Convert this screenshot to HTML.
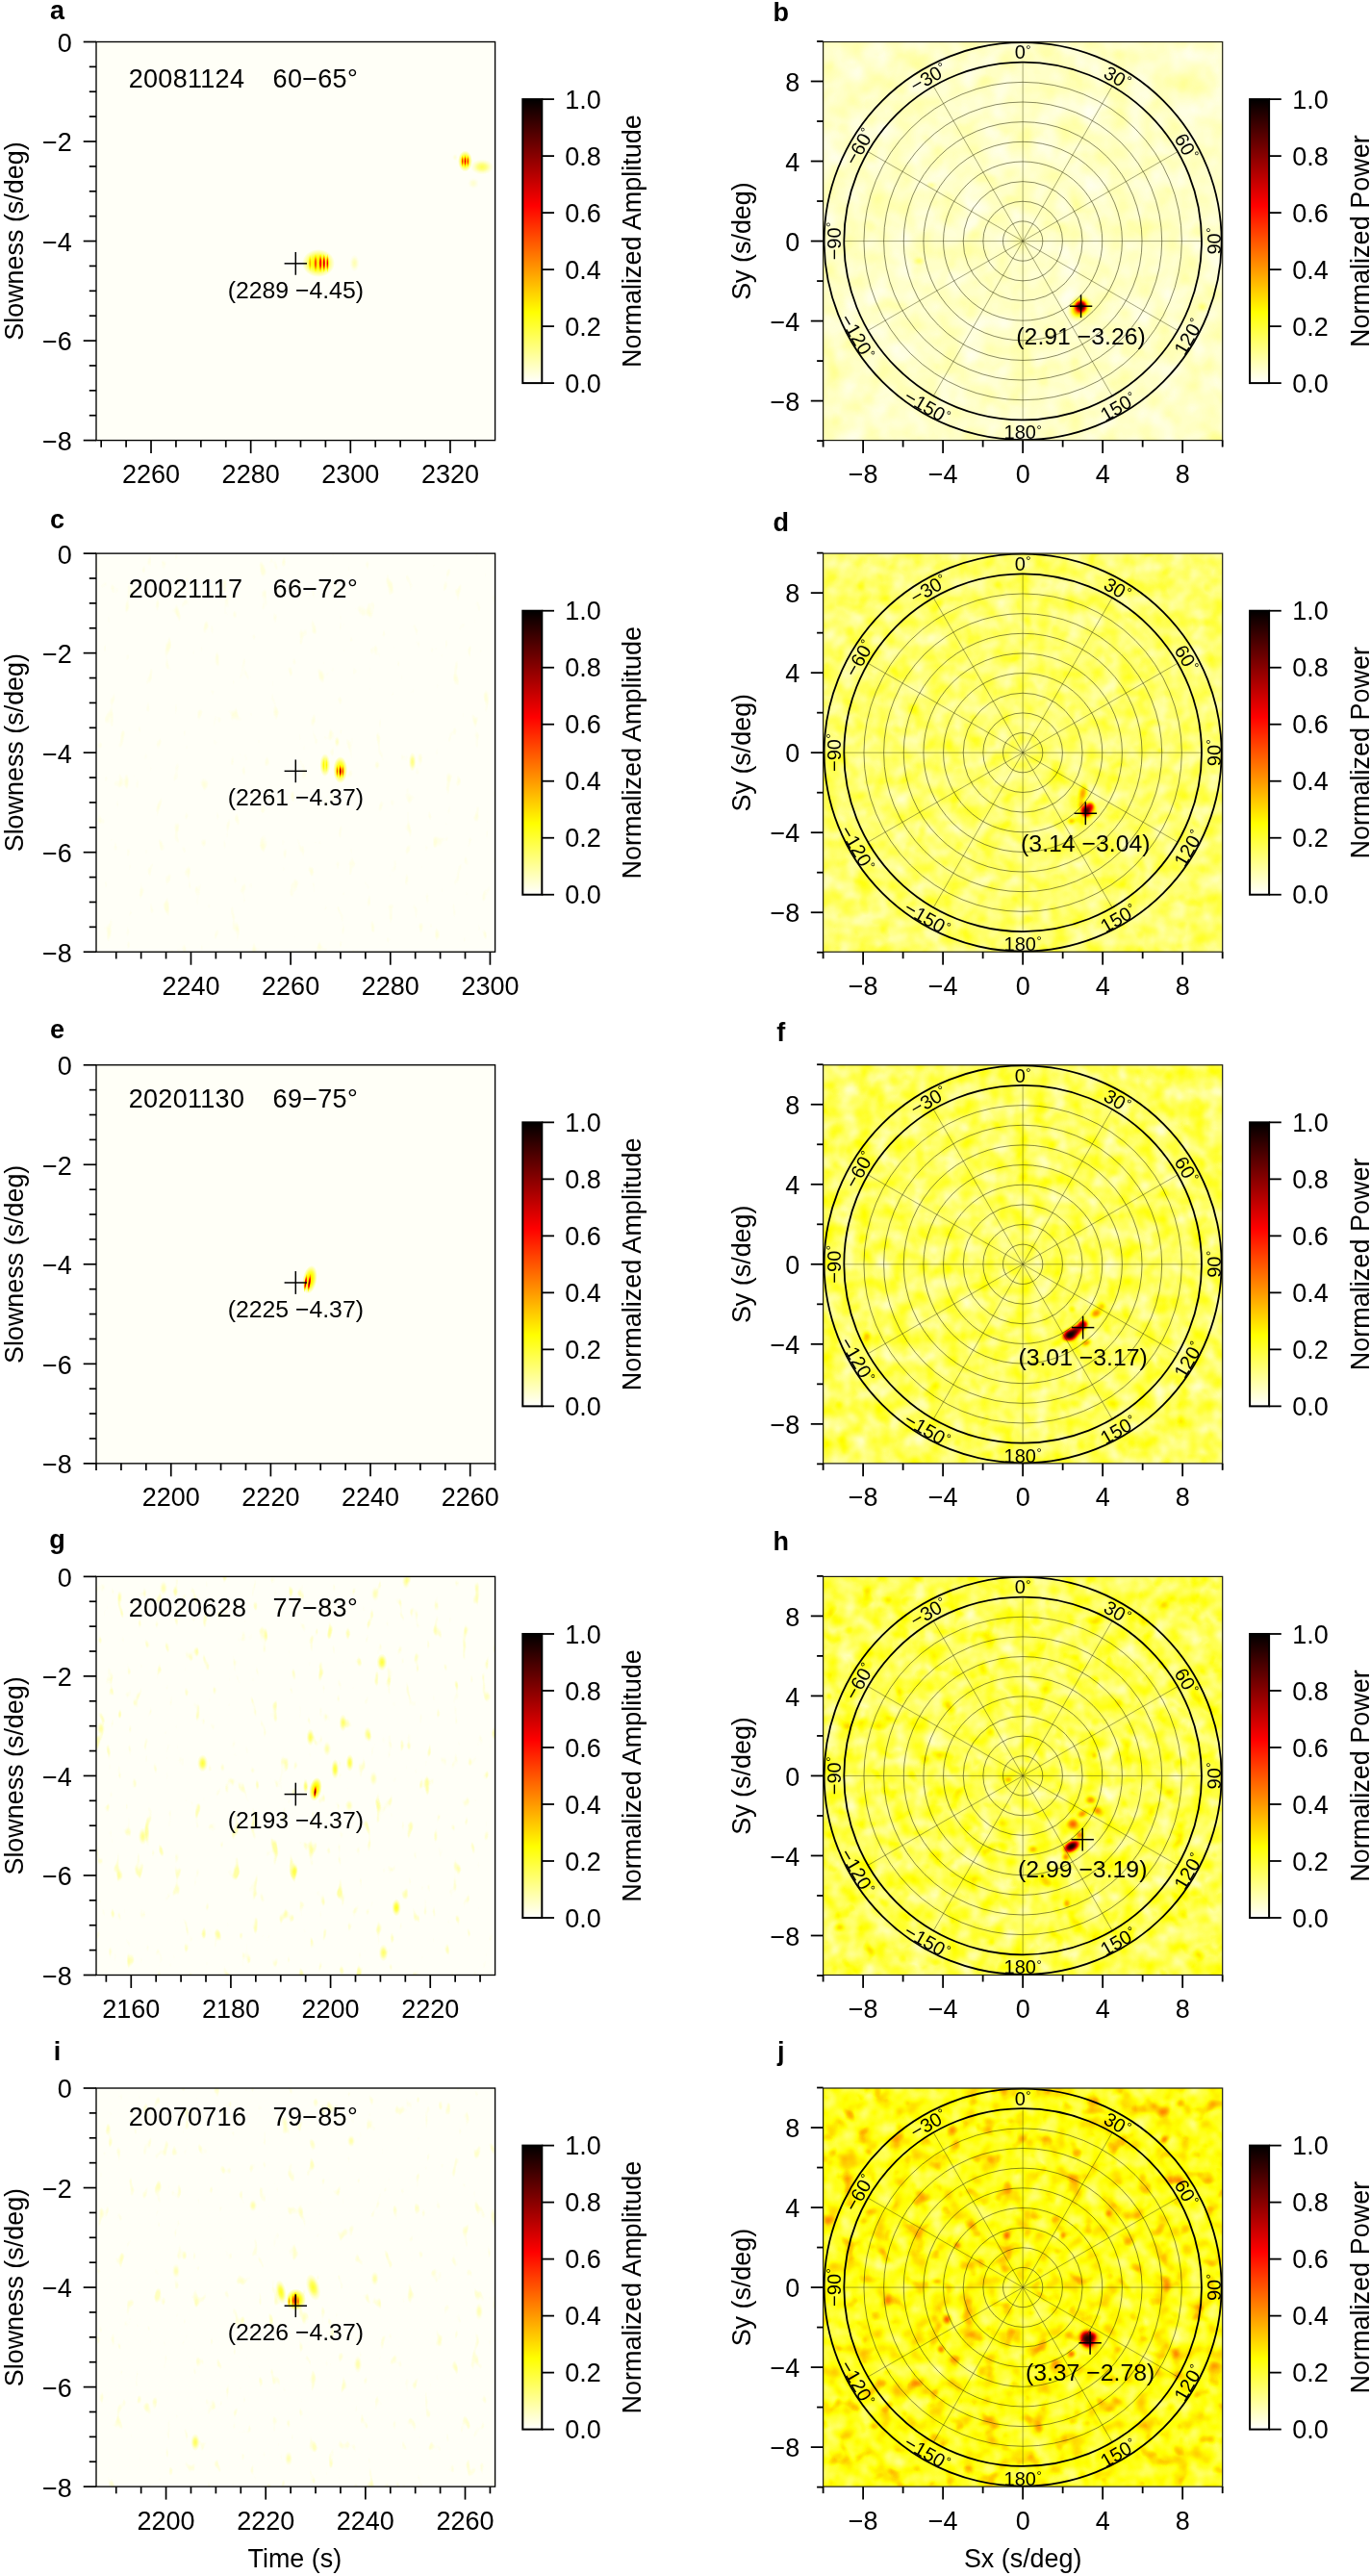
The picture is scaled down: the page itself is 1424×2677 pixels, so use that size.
<!DOCTYPE html>
<html><head><meta charset="utf-8"><title>Figure</title>
<style>
html,body{margin:0;padding:0;background:#fff;}
body{width:1424px;height:2677px;overflow:hidden;font-family:"Liberation Sans", sans-serif;}
svg{display:block;will-change:transform;}
svg text{font-family:"Liberation Sans", sans-serif;fill:#000;}
</style></head><body>
<svg width="1424" height="2677" viewBox="0 0 1424 2677">
<defs>
<linearGradient id="cbg" x1="0" y1="1" x2="0" y2="0">
<stop offset="0" stop-color="#ffffff"/>
<stop offset="0.25" stop-color="#ffff00"/>
<stop offset="0.625" stop-color="#ff0000"/>
<stop offset="1" stop-color="#000000"/>
</linearGradient>
<radialGradient id="bc"><stop offset="0" stop-color="#fff" stop-opacity="1"/><stop offset="0.3" stop-color="#fff" stop-opacity="0.95"/><stop offset="0.55" stop-color="#fff" stop-opacity="0.68"/><stop offset="0.78" stop-color="#fff" stop-opacity="0.3"/><stop offset="1" stop-color="#fff" stop-opacity="0"/></radialGradient>
<radialGradient id="bl"><stop offset="0" stop-color="#fff" stop-opacity="1"/><stop offset="0.35" stop-color="#fff" stop-opacity="0.75"/><stop offset="0.7" stop-color="#fff" stop-opacity="0.25"/><stop offset="1" stop-color="#fff" stop-opacity="0"/></radialGradient>
<filter id="fl0" filterUnits="userSpaceOnUse" x="100.0" y="43.5" width="414.6" height="414.1" color-interpolation-filters="sRGB"><feComponentTransfer>
<feFuncR type="table" tableValues="1 1 1 1 1 1 0.667 0.333 0"/>
<feFuncG type="table" tableValues="1 1 1 0.667 0.333 0 0 0 0"/>
<feFuncB type="table" tableValues="1 0.5 0 0 0 0 0 0 0"/>
<feFuncA type="linear" slope="0" intercept="1"/>
</feComponentTransfer></filter><clipPath id="cl0"><rect x="100.0" y="43.5" width="414.6" height="414.1"/></clipPath><filter id="fl1" filterUnits="userSpaceOnUse" x="100.0" y="575.13" width="414.6" height="414.1" color-interpolation-filters="sRGB"><feTurbulence type="fractalNoise" baseFrequency="0.10 0.045" numOctaves="2" seed="12" result="n"/><feColorMatrix in="n" type="matrix" values="1 0 0 0 0  1 0 0 0 0  1 0 0 0 0  0 0 0 0 1" result="g"/><feComponentTransfer in="g" result="s"><feFuncR type="table" tableValues="0.000 0.000 0.000 0.000 0.000 0.000 0.000 0.000 0.000 0.000 0.000 0.000 0.000 0.000 0.004 0.012 0.021 0.030 0.030 0.030 0.030"/><feFuncG type="table" tableValues="0.000 0.000 0.000 0.000 0.000 0.000 0.000 0.000 0.000 0.000 0.000 0.000 0.000 0.000 0.004 0.012 0.021 0.030 0.030 0.030 0.030"/><feFuncB type="table" tableValues="0.000 0.000 0.000 0.000 0.000 0.000 0.000 0.000 0.000 0.000 0.000 0.000 0.000 0.000 0.004 0.012 0.021 0.030 0.030 0.030 0.030"/></feComponentTransfer><feBlend in="SourceGraphic" in2="s" mode="screen"/><feComponentTransfer>
<feFuncR type="table" tableValues="1 1 1 1 1 1 0.667 0.333 0"/>
<feFuncG type="table" tableValues="1 1 1 0.667 0.333 0 0 0 0"/>
<feFuncB type="table" tableValues="1 0.5 0 0 0 0 0 0 0"/>
<feFuncA type="linear" slope="0" intercept="1"/>
</feComponentTransfer></filter><clipPath id="cl1"><rect x="100.0" y="575.13" width="414.6" height="414.1"/></clipPath><filter id="fl2" filterUnits="userSpaceOnUse" x="100.0" y="1106.76" width="414.6" height="414.1" color-interpolation-filters="sRGB"><feComponentTransfer>
<feFuncR type="table" tableValues="1 1 1 1 1 1 0.667 0.333 0"/>
<feFuncG type="table" tableValues="1 1 1 0.667 0.333 0 0 0 0"/>
<feFuncB type="table" tableValues="1 0.5 0 0 0 0 0 0 0"/>
<feFuncA type="linear" slope="0" intercept="1"/>
</feComponentTransfer></filter><clipPath id="cl2"><rect x="100.0" y="1106.76" width="414.6" height="414.1"/></clipPath><filter id="fl3" filterUnits="userSpaceOnUse" x="100.0" y="1638.3899999999999" width="414.6" height="414.1" color-interpolation-filters="sRGB"><feTurbulence type="fractalNoise" baseFrequency="0.10 0.045" numOctaves="2" seed="22" result="n"/><feColorMatrix in="n" type="matrix" values="1 0 0 0 0  1 0 0 0 0  1 0 0 0 0  0 0 0 0 1" result="g"/><feComponentTransfer in="g" result="s"><feFuncR type="table" tableValues="0.000 0.000 0.000 0.000 0.000 0.000 0.000 0.000 0.000 0.000 0.000 0.000 0.000 0.000 0.010 0.035 0.060 0.085 0.085 0.085 0.085"/><feFuncG type="table" tableValues="0.000 0.000 0.000 0.000 0.000 0.000 0.000 0.000 0.000 0.000 0.000 0.000 0.000 0.000 0.010 0.035 0.060 0.085 0.085 0.085 0.085"/><feFuncB type="table" tableValues="0.000 0.000 0.000 0.000 0.000 0.000 0.000 0.000 0.000 0.000 0.000 0.000 0.000 0.000 0.010 0.035 0.060 0.085 0.085 0.085 0.085"/></feComponentTransfer><feBlend in="SourceGraphic" in2="s" mode="screen"/><feComponentTransfer>
<feFuncR type="table" tableValues="1 1 1 1 1 1 0.667 0.333 0"/>
<feFuncG type="table" tableValues="1 1 1 0.667 0.333 0 0 0 0"/>
<feFuncB type="table" tableValues="1 0.5 0 0 0 0 0 0 0"/>
<feFuncA type="linear" slope="0" intercept="1"/>
</feComponentTransfer></filter><clipPath id="cl3"><rect x="100.0" y="1638.3899999999999" width="414.6" height="414.1"/></clipPath><filter id="fl4" filterUnits="userSpaceOnUse" x="100.0" y="2170.02" width="414.6" height="414.1" color-interpolation-filters="sRGB"><feTurbulence type="fractalNoise" baseFrequency="0.10 0.045" numOctaves="2" seed="27" result="n"/><feColorMatrix in="n" type="matrix" values="1 0 0 0 0  1 0 0 0 0  1 0 0 0 0  0 0 0 0 1" result="g"/><feComponentTransfer in="g" result="s"><feFuncR type="table" tableValues="0.000 0.000 0.000 0.000 0.000 0.000 0.000 0.000 0.000 0.000 0.000 0.000 0.000 0.000 0.006 0.023 0.039 0.055 0.055 0.055 0.055"/><feFuncG type="table" tableValues="0.000 0.000 0.000 0.000 0.000 0.000 0.000 0.000 0.000 0.000 0.000 0.000 0.000 0.000 0.006 0.023 0.039 0.055 0.055 0.055 0.055"/><feFuncB type="table" tableValues="0.000 0.000 0.000 0.000 0.000 0.000 0.000 0.000 0.000 0.000 0.000 0.000 0.000 0.000 0.006 0.023 0.039 0.055 0.055 0.055 0.055"/></feComponentTransfer><feBlend in="SourceGraphic" in2="s" mode="screen"/><feComponentTransfer>
<feFuncR type="table" tableValues="1 1 1 1 1 1 0.667 0.333 0"/>
<feFuncG type="table" tableValues="1 1 1 0.667 0.333 0 0 0 0"/>
<feFuncB type="table" tableValues="1 0.5 0 0 0 0 0 0 0"/>
<feFuncA type="linear" slope="0" intercept="1"/>
</feComponentTransfer></filter><clipPath id="cl4"><rect x="100.0" y="2170.02" width="414.6" height="414.1"/></clipPath><filter id="fr0" filterUnits="userSpaceOnUse" x="855.6" y="43.5" width="415.1" height="414.1" color-interpolation-filters="sRGB">
<feTurbulence type="fractalNoise" baseFrequency="0.04" numOctaves="2" seed="3" result="n"/>
<feColorMatrix in="n" type="matrix" values="0.1 0 0 0 0.005  0.1 0 0 0 0.005  0.1 0 0 0 0.005  0 0 0 0 1" result="g"/>
<feColorMatrix in="n" type="matrix" values="0 1 0 0 0  0 1 0 0 0  0 1 0 0 0  0 0 0 0 1" result="s0"/>
<feComponentTransfer in="s0" result="s1"><feFuncR type="table" tableValues="0.000 0.000 0.000 0.000 0.000 0.000 0.000 0.250 0.500 0.750 1.000"/><feFuncG type="table" tableValues="0.000 0.000 0.000 0.000 0.000 0.000 0.000 0.250 0.500 0.750 1.000"/><feFuncB type="table" tableValues="0.000 0.000 0.000 0.000 0.000 0.000 0.000 0.250 0.500 0.750 1.000"/></feComponentTransfer>
<feComposite in="g" in2="s1" operator="arithmetic" k1="0" k2="1" k3="0.04" k4="0" result="gs"/>
<feGaussianBlur in="SourceGraphic" stdDeviation="1.1" result="sb"/>
<feBlend in="sb" in2="gs" mode="screen"/>
<feComponentTransfer>
<feFuncR type="table" tableValues="1 1 1 1 1 1 0.667 0.333 0"/>
<feFuncG type="table" tableValues="1 1 1 0.667 0.333 0 0 0 0"/>
<feFuncB type="table" tableValues="1 0.5 0 0 0 0 0 0 0"/>
<feFuncA type="linear" slope="0" intercept="1"/>
</feComponentTransfer></filter><clipPath id="cr0"><rect x="855.6" y="43.5" width="415.1" height="414.1"/></clipPath><filter id="fr1" filterUnits="userSpaceOnUse" x="855.6" y="575.13" width="415.1" height="414.1" color-interpolation-filters="sRGB">
<feTurbulence type="fractalNoise" baseFrequency="0.055" numOctaves="2" seed="11" result="n"/>
<feColorMatrix in="n" type="matrix" values="0.2 0 0 0 0.040  0.2 0 0 0 0.040  0.2 0 0 0 0.040  0 0 0 0 1" result="g"/>
<feColorMatrix in="n" type="matrix" values="0 1 0 0 0  0 1 0 0 0  0 1 0 0 0  0 0 0 0 1" result="s0"/>
<feComponentTransfer in="s0" result="s1"><feFuncR type="table" tableValues="0.000 0.000 0.000 0.000 0.000 0.000 0.000 0.250 0.500 0.750 1.000"/><feFuncG type="table" tableValues="0.000 0.000 0.000 0.000 0.000 0.000 0.000 0.250 0.500 0.750 1.000"/><feFuncB type="table" tableValues="0.000 0.000 0.000 0.000 0.000 0.000 0.000 0.250 0.500 0.750 1.000"/></feComponentTransfer>
<feComposite in="g" in2="s1" operator="arithmetic" k1="0" k2="1" k3="0.08" k4="0" result="gs"/>
<feGaussianBlur in="SourceGraphic" stdDeviation="1.1" result="sb"/>
<feBlend in="sb" in2="gs" mode="screen"/>
<feComponentTransfer>
<feFuncR type="table" tableValues="1 1 1 1 1 1 0.667 0.333 0"/>
<feFuncG type="table" tableValues="1 1 1 0.667 0.333 0 0 0 0"/>
<feFuncB type="table" tableValues="1 0.5 0 0 0 0 0 0 0"/>
<feFuncA type="linear" slope="0" intercept="1"/>
</feComponentTransfer></filter><clipPath id="cr1"><rect x="855.6" y="575.13" width="415.1" height="414.1"/></clipPath><filter id="fr2" filterUnits="userSpaceOnUse" x="855.6" y="1106.76" width="415.1" height="414.1" color-interpolation-filters="sRGB">
<feTurbulence type="fractalNoise" baseFrequency="0.055" numOctaves="2" seed="23" result="n"/>
<feColorMatrix in="n" type="matrix" values="0.25 0 0 0 0.030  0.25 0 0 0 0.030  0.25 0 0 0 0.030  0 0 0 0 1" result="g"/>
<feColorMatrix in="n" type="matrix" values="0 1 0 0 0  0 1 0 0 0  0 1 0 0 0  0 0 0 0 1" result="s0"/>
<feComponentTransfer in="s0" result="s1"><feFuncR type="table" tableValues="0.000 0.000 0.000 0.000 0.000 0.000 0.000 0.250 0.500 0.750 1.000"/><feFuncG type="table" tableValues="0.000 0.000 0.000 0.000 0.000 0.000 0.000 0.250 0.500 0.750 1.000"/><feFuncB type="table" tableValues="0.000 0.000 0.000 0.000 0.000 0.000 0.000 0.250 0.500 0.750 1.000"/></feComponentTransfer>
<feComposite in="g" in2="s1" operator="arithmetic" k1="0" k2="1" k3="0.08" k4="0" result="gs"/>
<feGaussianBlur in="SourceGraphic" stdDeviation="1.1" result="sb"/>
<feBlend in="sb" in2="gs" mode="screen"/>
<feComponentTransfer>
<feFuncR type="table" tableValues="1 1 1 1 1 1 0.667 0.333 0"/>
<feFuncG type="table" tableValues="1 1 1 0.667 0.333 0 0 0 0"/>
<feFuncB type="table" tableValues="1 0.5 0 0 0 0 0 0 0"/>
<feFuncA type="linear" slope="0" intercept="1"/>
</feComponentTransfer></filter><clipPath id="cr2"><rect x="855.6" y="1106.76" width="415.1" height="414.1"/></clipPath><filter id="fr3" filterUnits="userSpaceOnUse" x="855.6" y="1638.3899999999999" width="415.1" height="414.1" color-interpolation-filters="sRGB">
<feTurbulence type="fractalNoise" baseFrequency="0.055" numOctaves="2" seed="37" result="n"/>
<feColorMatrix in="n" type="matrix" values="0.27 0 0 0 0.030  0.27 0 0 0 0.030  0.27 0 0 0 0.030  0 0 0 0 1" result="g"/>
<feColorMatrix in="n" type="matrix" values="0 1 0 0 0  0 1 0 0 0  0 1 0 0 0  0 0 0 0 1" result="s0"/>
<feComponentTransfer in="s0" result="s1"><feFuncR type="table" tableValues="0.000 0.000 0.000 0.000 0.000 0.000 0.000 0.250 0.500 0.750 1.000"/><feFuncG type="table" tableValues="0.000 0.000 0.000 0.000 0.000 0.000 0.000 0.250 0.500 0.750 1.000"/><feFuncB type="table" tableValues="0.000 0.000 0.000 0.000 0.000 0.000 0.000 0.250 0.500 0.750 1.000"/></feComponentTransfer>
<feComposite in="g" in2="s1" operator="arithmetic" k1="0" k2="1" k3="0.15" k4="0" result="gs"/>
<feGaussianBlur in="SourceGraphic" stdDeviation="1.1" result="sb"/>
<feBlend in="sb" in2="gs" mode="screen"/>
<feComponentTransfer>
<feFuncR type="table" tableValues="1 1 1 1 1 1 0.667 0.333 0"/>
<feFuncG type="table" tableValues="1 1 1 0.667 0.333 0 0 0 0"/>
<feFuncB type="table" tableValues="1 0.5 0 0 0 0 0 0 0"/>
<feFuncA type="linear" slope="0" intercept="1"/>
</feComponentTransfer></filter><clipPath id="cr3"><rect x="855.6" y="1638.3899999999999" width="415.1" height="414.1"/></clipPath><filter id="fr4" filterUnits="userSpaceOnUse" x="855.6" y="2170.02" width="415.1" height="414.1" color-interpolation-filters="sRGB">
<feTurbulence type="fractalNoise" baseFrequency="0.055" numOctaves="2" seed="51" result="n"/>
<feColorMatrix in="n" type="matrix" values="0.3 0 0 0 0.075  0.3 0 0 0 0.075  0.3 0 0 0 0.075  0 0 0 0 1" result="g"/>
<feColorMatrix in="n" type="matrix" values="0 1 0 0 0  0 1 0 0 0  0 1 0 0 0  0 0 0 0 1" result="s0"/>
<feComponentTransfer in="s0" result="s1"><feFuncR type="table" tableValues="0.000 0.000 0.000 0.000 0.000 0.000 0.048 0.286 0.524 0.762 1.000"/><feFuncG type="table" tableValues="0.000 0.000 0.000 0.000 0.000 0.000 0.048 0.286 0.524 0.762 1.000"/><feFuncB type="table" tableValues="0.000 0.000 0.000 0.000 0.000 0.000 0.048 0.286 0.524 0.762 1.000"/></feComponentTransfer>
<feComposite in="g" in2="s1" operator="arithmetic" k1="0" k2="1" k3="0.22" k4="0" result="gs"/>
<feGaussianBlur in="SourceGraphic" stdDeviation="1.1" result="sb"/>
<feBlend in="sb" in2="gs" mode="screen"/>
<feComponentTransfer>
<feFuncR type="table" tableValues="1 1 1 1 1 1 0.667 0.333 0"/>
<feFuncG type="table" tableValues="1 1 1 0.667 0.333 0 0 0 0"/>
<feFuncB type="table" tableValues="1 0.5 0 0 0 0 0 0 0"/>
<feFuncA type="linear" slope="0" intercept="1"/>
</feComponentTransfer></filter><clipPath id="cr4"><rect x="855.6" y="2170.02" width="415.1" height="414.1"/></clipPath></defs>
<rect width="1424" height="2677" fill="#fff"/>
<g clip-path="url(#cl0)"><g filter="url(#fl0)">
<rect x="95.0" y="38.5" width="424.6" height="424.1" fill="#020202"/>
<ellipse cx="331.0" cy="273.5" rx="17.0" ry="14.5" fill="url(#bc)" opacity="0.27"/>
<ellipse cx="322.2" cy="273.5" rx="1.6" ry="9.0" fill="url(#bl)" opacity="0.25"/>
<ellipse cx="328.0" cy="273.5" rx="1.8" ry="10.0" fill="url(#bl)" opacity="0.40"/>
<ellipse cx="333.1" cy="273.5" rx="1.8" ry="10.0" fill="url(#bl)" opacity="0.60"/>
<ellipse cx="336.8" cy="273.5" rx="1.6" ry="10.0" fill="url(#bl)" opacity="0.70"/>
<ellipse cx="340.4" cy="273.5" rx="1.6" ry="10.0" fill="url(#bl)" opacity="0.60"/>
<ellipse cx="368.5" cy="273.5" rx="5.0" ry="9.0" fill="url(#bl)" opacity="0.07"/>
<ellipse cx="483.5" cy="167.5" rx="7.5" ry="11.0" fill="url(#bc)" opacity="0.27"/>
<ellipse cx="480.6" cy="167.5" rx="1.5" ry="6.5" fill="url(#bl)" opacity="0.45"/>
<ellipse cx="483.5" cy="167.5" rx="1.5" ry="6.5" fill="url(#bl)" opacity="0.55"/>
<ellipse cx="486.4" cy="167.5" rx="1.5" ry="6.5" fill="url(#bl)" opacity="0.45"/>
<ellipse cx="501.0" cy="173.5" rx="12.0" ry="8.0" fill="url(#bl)" opacity="0.16"/>
<ellipse cx="492.0" cy="190.5" rx="6.0" ry="6.0" fill="url(#bl)" opacity="0.04"/>
<ellipse cx="473.0" cy="163.5" rx="3.0" ry="4.0" fill="url(#bl)" opacity="0.03"/>
</g></g>
<rect x="100.0" y="43.5" width="414.6" height="414.1" fill="none" stroke="#000" stroke-width="1.35"/>
<line x1="86.70" y1="43.50" x2="100.00" y2="43.50" stroke="#000" stroke-width="1.7" />
<text x="74.80" y="53.90" font-size="27" text-anchor="end" >0</text>
<line x1="92.80" y1="69.38" x2="100.00" y2="69.38" stroke="#000" stroke-width="1.7" />
<line x1="92.80" y1="95.26" x2="100.00" y2="95.26" stroke="#000" stroke-width="1.7" />
<line x1="92.80" y1="121.14" x2="100.00" y2="121.14" stroke="#000" stroke-width="1.7" />
<line x1="86.70" y1="147.03" x2="100.00" y2="147.03" stroke="#000" stroke-width="1.7" />
<text x="74.80" y="157.43" font-size="27" text-anchor="end" >−2</text>
<line x1="92.80" y1="172.91" x2="100.00" y2="172.91" stroke="#000" stroke-width="1.7" />
<line x1="92.80" y1="198.79" x2="100.00" y2="198.79" stroke="#000" stroke-width="1.7" />
<line x1="92.80" y1="224.67" x2="100.00" y2="224.67" stroke="#000" stroke-width="1.7" />
<line x1="86.70" y1="250.55" x2="100.00" y2="250.55" stroke="#000" stroke-width="1.7" />
<text x="74.80" y="260.95" font-size="27" text-anchor="end" >−4</text>
<line x1="92.80" y1="276.43" x2="100.00" y2="276.43" stroke="#000" stroke-width="1.7" />
<line x1="92.80" y1="302.31" x2="100.00" y2="302.31" stroke="#000" stroke-width="1.7" />
<line x1="92.80" y1="328.19" x2="100.00" y2="328.19" stroke="#000" stroke-width="1.7" />
<line x1="86.70" y1="354.08" x2="100.00" y2="354.08" stroke="#000" stroke-width="1.7" />
<text x="74.80" y="364.48" font-size="27" text-anchor="end" >−6</text>
<line x1="92.80" y1="379.96" x2="100.00" y2="379.96" stroke="#000" stroke-width="1.7" />
<line x1="92.80" y1="405.84" x2="100.00" y2="405.84" stroke="#000" stroke-width="1.7" />
<line x1="92.80" y1="431.72" x2="100.00" y2="431.72" stroke="#000" stroke-width="1.7" />
<line x1="86.70" y1="457.60" x2="100.00" y2="457.60" stroke="#000" stroke-width="1.7" />
<text x="74.80" y="468.00" font-size="27" text-anchor="end" >−8</text>
<line x1="105.18" y1="457.60" x2="105.18" y2="464.80" stroke="#000" stroke-width="1.7" />
<line x1="131.09" y1="457.60" x2="131.09" y2="464.80" stroke="#000" stroke-width="1.7" />
<line x1="157.01" y1="457.60" x2="157.01" y2="471.10" stroke="#000" stroke-width="1.7" />
<text x="157.01" y="502.10" font-size="27" text-anchor="middle" >2260</text>
<line x1="182.92" y1="457.60" x2="182.92" y2="464.80" stroke="#000" stroke-width="1.7" />
<line x1="208.83" y1="457.60" x2="208.83" y2="464.80" stroke="#000" stroke-width="1.7" />
<line x1="234.75" y1="457.60" x2="234.75" y2="464.80" stroke="#000" stroke-width="1.7" />
<line x1="260.66" y1="457.60" x2="260.66" y2="471.10" stroke="#000" stroke-width="1.7" />
<text x="260.66" y="502.10" font-size="27" text-anchor="middle" >2280</text>
<line x1="286.57" y1="457.60" x2="286.57" y2="464.80" stroke="#000" stroke-width="1.7" />
<line x1="312.48" y1="457.60" x2="312.48" y2="464.80" stroke="#000" stroke-width="1.7" />
<line x1="338.39" y1="457.60" x2="338.39" y2="464.80" stroke="#000" stroke-width="1.7" />
<line x1="364.31" y1="457.60" x2="364.31" y2="471.10" stroke="#000" stroke-width="1.7" />
<text x="364.31" y="502.10" font-size="27" text-anchor="middle" >2300</text>
<line x1="390.22" y1="457.60" x2="390.22" y2="464.80" stroke="#000" stroke-width="1.7" />
<line x1="416.13" y1="457.60" x2="416.13" y2="464.80" stroke="#000" stroke-width="1.7" />
<line x1="442.05" y1="457.60" x2="442.05" y2="464.80" stroke="#000" stroke-width="1.7" />
<line x1="467.96" y1="457.60" x2="467.96" y2="471.10" stroke="#000" stroke-width="1.7" />
<text x="467.96" y="502.10" font-size="27" text-anchor="middle" >2320</text>
<line x1="493.87" y1="457.60" x2="493.87" y2="464.80" stroke="#000" stroke-width="1.7" />
<text x="24.40" y="250.55" font-size="26.9" text-anchor="middle" transform="rotate(-90.00 24.40 250.55)" >Slowness (s/deg)</text>
<text x="59.60" y="19.70" font-size="27" text-anchor="middle" font-weight="bold" >a</text>
<text x="133.70" y="90.80" font-size="27" text-anchor="start" letter-spacing="0.3">20081124</text>
<text x="283.60" y="90.80" font-size="27" text-anchor="start" letter-spacing="0.3">60−65°</text>
<line x1="295.60" y1="273.84" x2="319.00" y2="273.84" stroke="#000" stroke-width="1.5" />
<line x1="307.30" y1="261.94" x2="307.30" y2="285.74" stroke="#000" stroke-width="1.5" />
<text x="307.30" y="309.74" font-size="24.8" text-anchor="middle" >(2289 −4.45)</text>
<rect x="543.30" y="103.10" width="20.00" height="295.00" fill="url(#cbg)" stroke="#000" stroke-width="2"/>
<line x1="563.30" y1="398.10" x2="576.00" y2="398.10" stroke="#000" stroke-width="1.8" />
<text x="624.90" y="407.80" font-size="27" text-anchor="end" >0.0</text>
<line x1="563.30" y1="339.10" x2="576.00" y2="339.10" stroke="#000" stroke-width="1.8" />
<text x="624.90" y="348.80" font-size="27" text-anchor="end" >0.2</text>
<line x1="563.30" y1="280.10" x2="576.00" y2="280.10" stroke="#000" stroke-width="1.8" />
<text x="624.90" y="289.80" font-size="27" text-anchor="end" >0.4</text>
<line x1="563.30" y1="221.10" x2="576.00" y2="221.10" stroke="#000" stroke-width="1.8" />
<text x="624.90" y="230.80" font-size="27" text-anchor="end" >0.6</text>
<line x1="563.30" y1="162.10" x2="576.00" y2="162.10" stroke="#000" stroke-width="1.8" />
<text x="624.90" y="171.80" font-size="27" text-anchor="end" >0.8</text>
<line x1="563.30" y1="103.10" x2="576.00" y2="103.10" stroke="#000" stroke-width="1.8" />
<text x="624.90" y="112.80" font-size="27" text-anchor="end" >1.0</text>
<text x="665.70" y="250.60" font-size="27" text-anchor="middle" transform="rotate(-90.00 665.70 250.60)" >Normalized Amplitude</text>
<g clip-path="url(#cl1)"><g filter="url(#fl1)">
<rect x="95.0" y="570.13" width="424.6" height="424.1" fill="#020202"/>
<ellipse cx="353.7" cy="800.1" rx="7.5" ry="14.0" fill="url(#bc)" opacity="0.26"/>
<ellipse cx="350.4" cy="801.6" rx="1.4" ry="7.0" fill="url(#bl)" opacity="0.40"/>
<ellipse cx="353.7" cy="801.6" rx="1.5" ry="7.0" fill="url(#bl)" opacity="0.80"/>
<ellipse cx="356.4" cy="801.6" rx="1.4" ry="7.0" fill="url(#bl)" opacity="0.45"/>
<ellipse cx="337.8" cy="795.1" rx="5.5" ry="12.0" fill="url(#bc)" opacity="0.17"/>
<ellipse cx="336.3" cy="795.1" rx="1.3" ry="8.0" fill="url(#bl)" opacity="0.12"/>
<ellipse cx="339.5" cy="795.1" rx="1.3" ry="8.0" fill="url(#bl)" opacity="0.12"/>
<ellipse cx="428.7" cy="791.7" rx="4.0" ry="10.0" fill="url(#bl)" opacity="0.12"/>
<ellipse cx="350.4" cy="770.9" rx="3.0" ry="6.0" fill="url(#bl)" opacity="0.05"/>
<ellipse cx="392.0" cy="795.1" rx="3.0" ry="5.0" fill="url(#bl)" opacity="0.03"/>
</g></g>
<rect x="100.0" y="575.13" width="414.6" height="414.1" fill="none" stroke="#000" stroke-width="1.35"/>
<line x1="86.70" y1="575.13" x2="100.00" y2="575.13" stroke="#000" stroke-width="1.7" />
<text x="74.80" y="585.53" font-size="27" text-anchor="end" >0</text>
<line x1="92.80" y1="601.01" x2="100.00" y2="601.01" stroke="#000" stroke-width="1.7" />
<line x1="92.80" y1="626.89" x2="100.00" y2="626.89" stroke="#000" stroke-width="1.7" />
<line x1="92.80" y1="652.77" x2="100.00" y2="652.77" stroke="#000" stroke-width="1.7" />
<line x1="86.70" y1="678.65" x2="100.00" y2="678.65" stroke="#000" stroke-width="1.7" />
<text x="74.80" y="689.05" font-size="27" text-anchor="end" >−2</text>
<line x1="92.80" y1="704.54" x2="100.00" y2="704.54" stroke="#000" stroke-width="1.7" />
<line x1="92.80" y1="730.42" x2="100.00" y2="730.42" stroke="#000" stroke-width="1.7" />
<line x1="92.80" y1="756.30" x2="100.00" y2="756.30" stroke="#000" stroke-width="1.7" />
<line x1="86.70" y1="782.18" x2="100.00" y2="782.18" stroke="#000" stroke-width="1.7" />
<text x="74.80" y="792.58" font-size="27" text-anchor="end" >−4</text>
<line x1="92.80" y1="808.06" x2="100.00" y2="808.06" stroke="#000" stroke-width="1.7" />
<line x1="92.80" y1="833.94" x2="100.00" y2="833.94" stroke="#000" stroke-width="1.7" />
<line x1="92.80" y1="859.82" x2="100.00" y2="859.82" stroke="#000" stroke-width="1.7" />
<line x1="86.70" y1="885.71" x2="100.00" y2="885.71" stroke="#000" stroke-width="1.7" />
<text x="74.80" y="896.11" font-size="27" text-anchor="end" >−6</text>
<line x1="92.80" y1="911.59" x2="100.00" y2="911.59" stroke="#000" stroke-width="1.7" />
<line x1="92.80" y1="937.47" x2="100.00" y2="937.47" stroke="#000" stroke-width="1.7" />
<line x1="92.80" y1="963.35" x2="100.00" y2="963.35" stroke="#000" stroke-width="1.7" />
<line x1="86.70" y1="989.23" x2="100.00" y2="989.23" stroke="#000" stroke-width="1.7" />
<text x="74.80" y="999.63" font-size="27" text-anchor="end" >−8</text>
<line x1="120.73" y1="989.23" x2="120.73" y2="996.43" stroke="#000" stroke-width="1.7" />
<line x1="146.64" y1="989.23" x2="146.64" y2="996.43" stroke="#000" stroke-width="1.7" />
<line x1="172.56" y1="989.23" x2="172.56" y2="996.43" stroke="#000" stroke-width="1.7" />
<line x1="198.47" y1="989.23" x2="198.47" y2="1002.73" stroke="#000" stroke-width="1.7" />
<text x="198.47" y="1033.73" font-size="27" text-anchor="middle" >2240</text>
<line x1="224.38" y1="989.23" x2="224.38" y2="996.43" stroke="#000" stroke-width="1.7" />
<line x1="250.29" y1="989.23" x2="250.29" y2="996.43" stroke="#000" stroke-width="1.7" />
<line x1="276.21" y1="989.23" x2="276.21" y2="996.43" stroke="#000" stroke-width="1.7" />
<line x1="302.12" y1="989.23" x2="302.12" y2="1002.73" stroke="#000" stroke-width="1.7" />
<text x="302.12" y="1033.73" font-size="27" text-anchor="middle" >2260</text>
<line x1="328.03" y1="989.23" x2="328.03" y2="996.43" stroke="#000" stroke-width="1.7" />
<line x1="353.94" y1="989.23" x2="353.94" y2="996.43" stroke="#000" stroke-width="1.7" />
<line x1="379.86" y1="989.23" x2="379.86" y2="996.43" stroke="#000" stroke-width="1.7" />
<line x1="405.77" y1="989.23" x2="405.77" y2="1002.73" stroke="#000" stroke-width="1.7" />
<text x="405.77" y="1033.73" font-size="27" text-anchor="middle" >2280</text>
<line x1="431.68" y1="989.23" x2="431.68" y2="996.43" stroke="#000" stroke-width="1.7" />
<line x1="457.59" y1="989.23" x2="457.59" y2="996.43" stroke="#000" stroke-width="1.7" />
<line x1="483.50" y1="989.23" x2="483.50" y2="996.43" stroke="#000" stroke-width="1.7" />
<line x1="509.42" y1="989.23" x2="509.42" y2="1002.73" stroke="#000" stroke-width="1.7" />
<text x="509.42" y="1033.73" font-size="27" text-anchor="middle" >2300</text>
<text x="24.40" y="782.18" font-size="26.9" text-anchor="middle" transform="rotate(-90.00 24.40 782.18)" >Slowness (s/deg)</text>
<text x="59.60" y="549.43" font-size="27" text-anchor="middle" font-weight="bold" >c</text>
<text x="133.70" y="620.53" font-size="27" text-anchor="start" letter-spacing="0.3">20021117</text>
<text x="283.60" y="620.53" font-size="27" text-anchor="start" letter-spacing="0.3">66−72°</text>
<line x1="295.60" y1="801.33" x2="319.00" y2="801.33" stroke="#000" stroke-width="1.5" />
<line x1="307.30" y1="789.43" x2="307.30" y2="813.23" stroke="#000" stroke-width="1.5" />
<text x="307.30" y="837.23" font-size="24.8" text-anchor="middle" >(2261 −4.37)</text>
<rect x="543.30" y="634.73" width="20.00" height="295.00" fill="url(#cbg)" stroke="#000" stroke-width="2"/>
<line x1="563.30" y1="929.73" x2="576.00" y2="929.73" stroke="#000" stroke-width="1.8" />
<text x="624.90" y="939.43" font-size="27" text-anchor="end" >0.0</text>
<line x1="563.30" y1="870.73" x2="576.00" y2="870.73" stroke="#000" stroke-width="1.8" />
<text x="624.90" y="880.43" font-size="27" text-anchor="end" >0.2</text>
<line x1="563.30" y1="811.73" x2="576.00" y2="811.73" stroke="#000" stroke-width="1.8" />
<text x="624.90" y="821.43" font-size="27" text-anchor="end" >0.4</text>
<line x1="563.30" y1="752.73" x2="576.00" y2="752.73" stroke="#000" stroke-width="1.8" />
<text x="624.90" y="762.43" font-size="27" text-anchor="end" >0.6</text>
<line x1="563.30" y1="693.73" x2="576.00" y2="693.73" stroke="#000" stroke-width="1.8" />
<text x="624.90" y="703.43" font-size="27" text-anchor="end" >0.8</text>
<line x1="563.30" y1="634.73" x2="576.00" y2="634.73" stroke="#000" stroke-width="1.8" />
<text x="624.90" y="644.43" font-size="27" text-anchor="end" >1.0</text>
<text x="665.70" y="782.23" font-size="27" text-anchor="middle" transform="rotate(-90.00 665.70 782.23)" >Normalized Amplitude</text>
<g clip-path="url(#cl2)"><g filter="url(#fl2)">
<rect x="95.0" y="1101.76" width="424.6" height="424.1" fill="#020202"/>
<ellipse cx="322.0" cy="1329.8" rx="7.5" ry="15.0" fill="url(#bc)" opacity="0.28" transform="rotate(10 322.0 1329.8)"/>
<ellipse cx="317.6" cy="1333.3" rx="1.6" ry="10.0" fill="url(#bl)" opacity="0.75" transform="rotate(8 317.6 1333.3)"/>
<ellipse cx="321.5" cy="1333.3" rx="1.6" ry="10.0" fill="url(#bl)" opacity="0.80" transform="rotate(8 321.5 1333.3)"/>
</g></g>
<rect x="100.0" y="1106.76" width="414.6" height="414.1" fill="none" stroke="#000" stroke-width="1.35"/>
<line x1="86.70" y1="1106.76" x2="100.00" y2="1106.76" stroke="#000" stroke-width="1.7" />
<text x="74.80" y="1117.16" font-size="27" text-anchor="end" >0</text>
<line x1="92.80" y1="1132.64" x2="100.00" y2="1132.64" stroke="#000" stroke-width="1.7" />
<line x1="92.80" y1="1158.52" x2="100.00" y2="1158.52" stroke="#000" stroke-width="1.7" />
<line x1="92.80" y1="1184.40" x2="100.00" y2="1184.40" stroke="#000" stroke-width="1.7" />
<line x1="86.70" y1="1210.29" x2="100.00" y2="1210.29" stroke="#000" stroke-width="1.7" />
<text x="74.80" y="1220.69" font-size="27" text-anchor="end" >−2</text>
<line x1="92.80" y1="1236.17" x2="100.00" y2="1236.17" stroke="#000" stroke-width="1.7" />
<line x1="92.80" y1="1262.05" x2="100.00" y2="1262.05" stroke="#000" stroke-width="1.7" />
<line x1="92.80" y1="1287.93" x2="100.00" y2="1287.93" stroke="#000" stroke-width="1.7" />
<line x1="86.70" y1="1313.81" x2="100.00" y2="1313.81" stroke="#000" stroke-width="1.7" />
<text x="74.80" y="1324.21" font-size="27" text-anchor="end" >−4</text>
<line x1="92.80" y1="1339.69" x2="100.00" y2="1339.69" stroke="#000" stroke-width="1.7" />
<line x1="92.80" y1="1365.57" x2="100.00" y2="1365.57" stroke="#000" stroke-width="1.7" />
<line x1="92.80" y1="1391.45" x2="100.00" y2="1391.45" stroke="#000" stroke-width="1.7" />
<line x1="86.70" y1="1417.34" x2="100.00" y2="1417.34" stroke="#000" stroke-width="1.7" />
<text x="74.80" y="1427.74" font-size="27" text-anchor="end" >−6</text>
<line x1="92.80" y1="1443.22" x2="100.00" y2="1443.22" stroke="#000" stroke-width="1.7" />
<line x1="92.80" y1="1469.10" x2="100.00" y2="1469.10" stroke="#000" stroke-width="1.7" />
<line x1="92.80" y1="1494.98" x2="100.00" y2="1494.98" stroke="#000" stroke-width="1.7" />
<line x1="86.70" y1="1520.86" x2="100.00" y2="1520.86" stroke="#000" stroke-width="1.7" />
<text x="74.80" y="1531.26" font-size="27" text-anchor="end" >−8</text>
<line x1="100.00" y1="1520.86" x2="100.00" y2="1528.06" stroke="#000" stroke-width="1.7" />
<line x1="125.91" y1="1520.86" x2="125.91" y2="1528.06" stroke="#000" stroke-width="1.7" />
<line x1="151.82" y1="1520.86" x2="151.82" y2="1528.06" stroke="#000" stroke-width="1.7" />
<line x1="177.74" y1="1520.86" x2="177.74" y2="1534.36" stroke="#000" stroke-width="1.7" />
<text x="177.74" y="1565.36" font-size="27" text-anchor="middle" >2200</text>
<line x1="203.65" y1="1520.86" x2="203.65" y2="1528.06" stroke="#000" stroke-width="1.7" />
<line x1="229.56" y1="1520.86" x2="229.56" y2="1528.06" stroke="#000" stroke-width="1.7" />
<line x1="255.47" y1="1520.86" x2="255.47" y2="1528.06" stroke="#000" stroke-width="1.7" />
<line x1="281.39" y1="1520.86" x2="281.39" y2="1534.36" stroke="#000" stroke-width="1.7" />
<text x="281.39" y="1565.36" font-size="27" text-anchor="middle" >2220</text>
<line x1="307.30" y1="1520.86" x2="307.30" y2="1528.06" stroke="#000" stroke-width="1.7" />
<line x1="333.21" y1="1520.86" x2="333.21" y2="1528.06" stroke="#000" stroke-width="1.7" />
<line x1="359.12" y1="1520.86" x2="359.12" y2="1528.06" stroke="#000" stroke-width="1.7" />
<line x1="385.04" y1="1520.86" x2="385.04" y2="1534.36" stroke="#000" stroke-width="1.7" />
<text x="385.04" y="1565.36" font-size="27" text-anchor="middle" >2240</text>
<line x1="410.95" y1="1520.86" x2="410.95" y2="1528.06" stroke="#000" stroke-width="1.7" />
<line x1="436.86" y1="1520.86" x2="436.86" y2="1528.06" stroke="#000" stroke-width="1.7" />
<line x1="462.78" y1="1520.86" x2="462.78" y2="1528.06" stroke="#000" stroke-width="1.7" />
<line x1="488.69" y1="1520.86" x2="488.69" y2="1534.36" stroke="#000" stroke-width="1.7" />
<text x="488.69" y="1565.36" font-size="27" text-anchor="middle" >2260</text>
<line x1="514.60" y1="1520.86" x2="514.60" y2="1528.06" stroke="#000" stroke-width="1.7" />
<text x="24.40" y="1313.81" font-size="26.9" text-anchor="middle" transform="rotate(-90.00 24.40 1313.81)" >Slowness (s/deg)</text>
<text x="59.60" y="1079.06" font-size="27" text-anchor="middle" font-weight="bold" >e</text>
<text x="133.70" y="1150.56" font-size="27" text-anchor="start" letter-spacing="0.3">20201130</text>
<text x="283.60" y="1150.56" font-size="27" text-anchor="start" letter-spacing="0.3">69−75°</text>
<line x1="295.60" y1="1332.96" x2="319.00" y2="1332.96" stroke="#000" stroke-width="1.5" />
<line x1="307.30" y1="1321.06" x2="307.30" y2="1344.86" stroke="#000" stroke-width="1.5" />
<text x="307.30" y="1368.86" font-size="24.8" text-anchor="middle" >(2225 −4.37)</text>
<rect x="543.30" y="1166.36" width="20.00" height="295.00" fill="url(#cbg)" stroke="#000" stroke-width="2"/>
<line x1="563.30" y1="1461.36" x2="576.00" y2="1461.36" stroke="#000" stroke-width="1.8" />
<text x="624.90" y="1471.06" font-size="27" text-anchor="end" >0.0</text>
<line x1="563.30" y1="1402.36" x2="576.00" y2="1402.36" stroke="#000" stroke-width="1.8" />
<text x="624.90" y="1412.06" font-size="27" text-anchor="end" >0.2</text>
<line x1="563.30" y1="1343.36" x2="576.00" y2="1343.36" stroke="#000" stroke-width="1.8" />
<text x="624.90" y="1353.06" font-size="27" text-anchor="end" >0.4</text>
<line x1="563.30" y1="1284.36" x2="576.00" y2="1284.36" stroke="#000" stroke-width="1.8" />
<text x="624.90" y="1294.06" font-size="27" text-anchor="end" >0.6</text>
<line x1="563.30" y1="1225.36" x2="576.00" y2="1225.36" stroke="#000" stroke-width="1.8" />
<text x="624.90" y="1235.06" font-size="27" text-anchor="end" >0.8</text>
<line x1="563.30" y1="1166.36" x2="576.00" y2="1166.36" stroke="#000" stroke-width="1.8" />
<text x="624.90" y="1176.06" font-size="27" text-anchor="end" >1.0</text>
<text x="665.70" y="1313.86" font-size="27" text-anchor="middle" transform="rotate(-90.00 665.70 1313.86)" >Normalized Amplitude</text>
<g clip-path="url(#cl3)"><g filter="url(#fl3)">
<rect x="95.0" y="1633.3899999999999" width="424.6" height="424.1" fill="#020202"/>
<ellipse cx="328.0" cy="1859.4" rx="6.5" ry="12.5" fill="url(#bc)" opacity="0.28" transform="rotate(10 328.0 1859.4)"/>
<ellipse cx="327.5" cy="1862.5" rx="1.6" ry="7.0" fill="url(#bl)" opacity="0.80" transform="rotate(5 327.5 1862.5)"/>
<ellipse cx="317.6" cy="1856.4" rx="2.8" ry="7.8" fill="url(#bl)" opacity="0.14"/>
<ellipse cx="348.3" cy="1838.4" rx="4.2" ry="10.4" fill="url(#bl)" opacity="0.20"/>
<ellipse cx="363.6" cy="1831.9" rx="4.2" ry="9.1" fill="url(#bl)" opacity="0.18"/>
<ellipse cx="388.3" cy="1848.4" rx="4.2" ry="7.8" fill="url(#bl)" opacity="0.07"/>
<ellipse cx="363.0" cy="1876.4" rx="4.2" ry="6.5" fill="url(#bl)" opacity="0.07"/>
<ellipse cx="322.6" cy="1805.4" rx="4.2" ry="9.1" fill="url(#bl)" opacity="0.16"/>
<ellipse cx="382.2" cy="1802.0" rx="4.2" ry="7.8" fill="url(#bl)" opacity="0.11"/>
<ellipse cx="356.5" cy="1790.4" rx="4.2" ry="9.1" fill="url(#bl)" opacity="0.14"/>
<ellipse cx="340.0" cy="1817.4" rx="4.2" ry="7.8" fill="url(#bl)" opacity="0.08"/>
<ellipse cx="210.6" cy="1832.4" rx="5.6" ry="9.1" fill="url(#bl)" opacity="0.19"/>
<ellipse cx="397.0" cy="1727.4" rx="5.6" ry="9.1" fill="url(#bl)" opacity="0.19"/>
<ellipse cx="412.0" cy="1982.4" rx="4.9" ry="9.1" fill="url(#bl)" opacity="0.22"/>
<ellipse cx="398.5" cy="2029.4" rx="4.9" ry="9.1" fill="url(#bl)" opacity="0.14"/>
<ellipse cx="148.5" cy="1908.4" rx="4.9" ry="9.1" fill="url(#bl)" opacity="0.11"/>
<ellipse cx="306.0" cy="1944.4" rx="4.2" ry="9.1" fill="url(#bl)" opacity="0.11"/>
<ellipse cx="105.0" cy="1796.4" rx="4.2" ry="7.8" fill="url(#bl)" opacity="0.09"/>
<ellipse cx="390.0" cy="1656.4" rx="4.2" ry="7.8" fill="url(#bl)" opacity="0.07"/>
<ellipse cx="422.0" cy="1643.4" rx="4.2" ry="7.8" fill="url(#bl)" opacity="0.09"/>
<ellipse cx="170.0" cy="1650.4" rx="4.2" ry="7.8" fill="url(#bl)" opacity="0.07"/>
</g></g>
<rect x="100.0" y="1638.3899999999999" width="414.6" height="414.1" fill="none" stroke="#000" stroke-width="1.35"/>
<line x1="86.70" y1="1638.39" x2="100.00" y2="1638.39" stroke="#000" stroke-width="1.7" />
<text x="74.80" y="1648.79" font-size="27" text-anchor="end" >0</text>
<line x1="92.80" y1="1664.27" x2="100.00" y2="1664.27" stroke="#000" stroke-width="1.7" />
<line x1="92.80" y1="1690.15" x2="100.00" y2="1690.15" stroke="#000" stroke-width="1.7" />
<line x1="92.80" y1="1716.03" x2="100.00" y2="1716.03" stroke="#000" stroke-width="1.7" />
<line x1="86.70" y1="1741.91" x2="100.00" y2="1741.91" stroke="#000" stroke-width="1.7" />
<text x="74.80" y="1752.32" font-size="27" text-anchor="end" >−2</text>
<line x1="92.80" y1="1767.80" x2="100.00" y2="1767.80" stroke="#000" stroke-width="1.7" />
<line x1="92.80" y1="1793.68" x2="100.00" y2="1793.68" stroke="#000" stroke-width="1.7" />
<line x1="92.80" y1="1819.56" x2="100.00" y2="1819.56" stroke="#000" stroke-width="1.7" />
<line x1="86.70" y1="1845.44" x2="100.00" y2="1845.44" stroke="#000" stroke-width="1.7" />
<text x="74.80" y="1855.84" font-size="27" text-anchor="end" >−4</text>
<line x1="92.80" y1="1871.32" x2="100.00" y2="1871.32" stroke="#000" stroke-width="1.7" />
<line x1="92.80" y1="1897.20" x2="100.00" y2="1897.20" stroke="#000" stroke-width="1.7" />
<line x1="92.80" y1="1923.08" x2="100.00" y2="1923.08" stroke="#000" stroke-width="1.7" />
<line x1="86.70" y1="1948.96" x2="100.00" y2="1948.96" stroke="#000" stroke-width="1.7" />
<text x="74.80" y="1959.37" font-size="27" text-anchor="end" >−6</text>
<line x1="92.80" y1="1974.85" x2="100.00" y2="1974.85" stroke="#000" stroke-width="1.7" />
<line x1="92.80" y1="2000.73" x2="100.00" y2="2000.73" stroke="#000" stroke-width="1.7" />
<line x1="92.80" y1="2026.61" x2="100.00" y2="2026.61" stroke="#000" stroke-width="1.7" />
<line x1="86.70" y1="2052.49" x2="100.00" y2="2052.49" stroke="#000" stroke-width="1.7" />
<text x="74.80" y="2062.89" font-size="27" text-anchor="end" >−8</text>
<line x1="110.36" y1="2052.49" x2="110.36" y2="2059.69" stroke="#000" stroke-width="1.7" />
<line x1="136.28" y1="2052.49" x2="136.28" y2="2065.99" stroke="#000" stroke-width="1.7" />
<text x="136.28" y="2096.99" font-size="27" text-anchor="middle" >2160</text>
<line x1="162.19" y1="2052.49" x2="162.19" y2="2059.69" stroke="#000" stroke-width="1.7" />
<line x1="188.10" y1="2052.49" x2="188.10" y2="2059.69" stroke="#000" stroke-width="1.7" />
<line x1="214.01" y1="2052.49" x2="214.01" y2="2059.69" stroke="#000" stroke-width="1.7" />
<line x1="239.93" y1="2052.49" x2="239.93" y2="2065.99" stroke="#000" stroke-width="1.7" />
<text x="239.93" y="2096.99" font-size="27" text-anchor="middle" >2180</text>
<line x1="265.84" y1="2052.49" x2="265.84" y2="2059.69" stroke="#000" stroke-width="1.7" />
<line x1="291.75" y1="2052.49" x2="291.75" y2="2059.69" stroke="#000" stroke-width="1.7" />
<line x1="317.66" y1="2052.49" x2="317.66" y2="2059.69" stroke="#000" stroke-width="1.7" />
<line x1="343.58" y1="2052.49" x2="343.58" y2="2065.99" stroke="#000" stroke-width="1.7" />
<text x="343.58" y="2096.99" font-size="27" text-anchor="middle" >2200</text>
<line x1="369.49" y1="2052.49" x2="369.49" y2="2059.69" stroke="#000" stroke-width="1.7" />
<line x1="395.40" y1="2052.49" x2="395.40" y2="2059.69" stroke="#000" stroke-width="1.7" />
<line x1="421.31" y1="2052.49" x2="421.31" y2="2059.69" stroke="#000" stroke-width="1.7" />
<line x1="447.23" y1="2052.49" x2="447.23" y2="2065.99" stroke="#000" stroke-width="1.7" />
<text x="447.23" y="2096.99" font-size="27" text-anchor="middle" >2220</text>
<line x1="473.14" y1="2052.49" x2="473.14" y2="2059.69" stroke="#000" stroke-width="1.7" />
<line x1="499.05" y1="2052.49" x2="499.05" y2="2059.69" stroke="#000" stroke-width="1.7" />
<text x="24.40" y="1845.44" font-size="26.9" text-anchor="middle" transform="rotate(-90.00 24.40 1845.44)" >Slowness (s/deg)</text>
<text x="59.60" y="1609.09" font-size="27" text-anchor="middle" font-weight="bold" >g</text>
<text x="133.70" y="1679.99" font-size="27" text-anchor="start" letter-spacing="0.3">20020628</text>
<text x="283.60" y="1679.99" font-size="27" text-anchor="start" letter-spacing="0.3">77−83°</text>
<line x1="295.60" y1="1864.59" x2="319.00" y2="1864.59" stroke="#000" stroke-width="1.5" />
<line x1="307.30" y1="1852.69" x2="307.30" y2="1876.49" stroke="#000" stroke-width="1.5" />
<text x="307.30" y="1900.49" font-size="24.8" text-anchor="middle" >(2193 −4.37)</text>
<rect x="543.30" y="1697.99" width="20.00" height="295.00" fill="url(#cbg)" stroke="#000" stroke-width="2"/>
<line x1="563.30" y1="1992.99" x2="576.00" y2="1992.99" stroke="#000" stroke-width="1.8" />
<text x="624.90" y="2002.69" font-size="27" text-anchor="end" >0.0</text>
<line x1="563.30" y1="1933.99" x2="576.00" y2="1933.99" stroke="#000" stroke-width="1.8" />
<text x="624.90" y="1943.69" font-size="27" text-anchor="end" >0.2</text>
<line x1="563.30" y1="1874.99" x2="576.00" y2="1874.99" stroke="#000" stroke-width="1.8" />
<text x="624.90" y="1884.69" font-size="27" text-anchor="end" >0.4</text>
<line x1="563.30" y1="1815.99" x2="576.00" y2="1815.99" stroke="#000" stroke-width="1.8" />
<text x="624.90" y="1825.69" font-size="27" text-anchor="end" >0.6</text>
<line x1="563.30" y1="1756.99" x2="576.00" y2="1756.99" stroke="#000" stroke-width="1.8" />
<text x="624.90" y="1766.69" font-size="27" text-anchor="end" >0.8</text>
<line x1="563.30" y1="1697.99" x2="576.00" y2="1697.99" stroke="#000" stroke-width="1.8" />
<text x="624.90" y="1707.69" font-size="27" text-anchor="end" >1.0</text>
<text x="665.70" y="1845.49" font-size="27" text-anchor="middle" transform="rotate(-90.00 665.70 1845.49)" >Normalized Amplitude</text>
<g clip-path="url(#cl4)"><g filter="url(#fl4)">
<rect x="95.0" y="2165.02" width="424.6" height="424.1" fill="#020202"/>
<ellipse cx="307.5" cy="2390.0" rx="10.5" ry="11.5" fill="url(#bc)" opacity="0.28"/>
<ellipse cx="307.0" cy="2390.5" rx="2.2" ry="9.0" fill="url(#bl)" opacity="0.75"/>
<ellipse cx="304.5" cy="2391.0" rx="1.4" ry="8.0" fill="url(#bl)" opacity="0.40"/>
<ellipse cx="300.4" cy="2392.0" rx="1.4" ry="7.0" fill="url(#bl)" opacity="0.35"/>
<ellipse cx="310.0" cy="2392.0" rx="1.4" ry="7.0" fill="url(#bl)" opacity="0.30"/>
<ellipse cx="292.0" cy="2382.0" rx="5.6" ry="13.0" fill="url(#bl)" opacity="0.22" transform="rotate(-10 292.0 2382.0)"/>
<ellipse cx="325.5" cy="2377.0" rx="7.0" ry="14.3" fill="url(#bl)" opacity="0.20" transform="rotate(-15 325.5 2377.0)"/>
<ellipse cx="389.6" cy="2368.0" rx="4.2" ry="7.8" fill="url(#bl)" opacity="0.08"/>
<ellipse cx="203.0" cy="2538.0" rx="4.9" ry="9.1" fill="url(#bl)" opacity="0.16"/>
<ellipse cx="372.0" cy="2457.0" rx="4.2" ry="9.1" fill="url(#bl)" opacity="0.08"/>
<ellipse cx="263.0" cy="2292.0" rx="4.2" ry="6.5" fill="url(#bl)" opacity="0.08"/>
<ellipse cx="365.0" cy="2225.0" rx="4.2" ry="6.5" fill="url(#bl)" opacity="0.08"/>
<ellipse cx="183.0" cy="2360.0" rx="4.2" ry="7.8" fill="url(#bl)" opacity="0.07"/>
<ellipse cx="498.0" cy="2402.0" rx="4.2" ry="9.1" fill="url(#bl)" opacity="0.07"/>
<ellipse cx="300.0" cy="2555.0" rx="4.2" ry="7.8" fill="url(#bl)" opacity="0.07"/>
</g></g>
<rect x="100.0" y="2170.02" width="414.6" height="414.1" fill="none" stroke="#000" stroke-width="1.35"/>
<line x1="86.70" y1="2170.02" x2="100.00" y2="2170.02" stroke="#000" stroke-width="1.7" />
<text x="74.80" y="2180.42" font-size="27" text-anchor="end" >0</text>
<line x1="92.80" y1="2195.90" x2="100.00" y2="2195.90" stroke="#000" stroke-width="1.7" />
<line x1="92.80" y1="2221.78" x2="100.00" y2="2221.78" stroke="#000" stroke-width="1.7" />
<line x1="92.80" y1="2247.66" x2="100.00" y2="2247.66" stroke="#000" stroke-width="1.7" />
<line x1="86.70" y1="2273.55" x2="100.00" y2="2273.55" stroke="#000" stroke-width="1.7" />
<text x="74.80" y="2283.95" font-size="27" text-anchor="end" >−2</text>
<line x1="92.80" y1="2299.43" x2="100.00" y2="2299.43" stroke="#000" stroke-width="1.7" />
<line x1="92.80" y1="2325.31" x2="100.00" y2="2325.31" stroke="#000" stroke-width="1.7" />
<line x1="92.80" y1="2351.19" x2="100.00" y2="2351.19" stroke="#000" stroke-width="1.7" />
<line x1="86.70" y1="2377.07" x2="100.00" y2="2377.07" stroke="#000" stroke-width="1.7" />
<text x="74.80" y="2387.47" font-size="27" text-anchor="end" >−4</text>
<line x1="92.80" y1="2402.95" x2="100.00" y2="2402.95" stroke="#000" stroke-width="1.7" />
<line x1="92.80" y1="2428.83" x2="100.00" y2="2428.83" stroke="#000" stroke-width="1.7" />
<line x1="92.80" y1="2454.71" x2="100.00" y2="2454.71" stroke="#000" stroke-width="1.7" />
<line x1="86.70" y1="2480.60" x2="100.00" y2="2480.60" stroke="#000" stroke-width="1.7" />
<text x="74.80" y="2491.00" font-size="27" text-anchor="end" >−6</text>
<line x1="92.80" y1="2506.48" x2="100.00" y2="2506.48" stroke="#000" stroke-width="1.7" />
<line x1="92.80" y1="2532.36" x2="100.00" y2="2532.36" stroke="#000" stroke-width="1.7" />
<line x1="92.80" y1="2558.24" x2="100.00" y2="2558.24" stroke="#000" stroke-width="1.7" />
<line x1="86.70" y1="2584.12" x2="100.00" y2="2584.12" stroke="#000" stroke-width="1.7" />
<text x="74.80" y="2594.52" font-size="27" text-anchor="end" >−8</text>
<line x1="120.73" y1="2584.12" x2="120.73" y2="2591.32" stroke="#000" stroke-width="1.7" />
<line x1="146.64" y1="2584.12" x2="146.64" y2="2591.32" stroke="#000" stroke-width="1.7" />
<line x1="172.56" y1="2584.12" x2="172.56" y2="2597.62" stroke="#000" stroke-width="1.7" />
<text x="172.56" y="2628.62" font-size="27" text-anchor="middle" >2200</text>
<line x1="198.47" y1="2584.12" x2="198.47" y2="2591.32" stroke="#000" stroke-width="1.7" />
<line x1="224.38" y1="2584.12" x2="224.38" y2="2591.32" stroke="#000" stroke-width="1.7" />
<line x1="250.29" y1="2584.12" x2="250.29" y2="2591.32" stroke="#000" stroke-width="1.7" />
<line x1="276.21" y1="2584.12" x2="276.21" y2="2597.62" stroke="#000" stroke-width="1.7" />
<text x="276.21" y="2628.62" font-size="27" text-anchor="middle" >2220</text>
<line x1="302.12" y1="2584.12" x2="302.12" y2="2591.32" stroke="#000" stroke-width="1.7" />
<line x1="328.03" y1="2584.12" x2="328.03" y2="2591.32" stroke="#000" stroke-width="1.7" />
<line x1="353.94" y1="2584.12" x2="353.94" y2="2591.32" stroke="#000" stroke-width="1.7" />
<line x1="379.86" y1="2584.12" x2="379.86" y2="2597.62" stroke="#000" stroke-width="1.7" />
<text x="379.86" y="2628.62" font-size="27" text-anchor="middle" >2240</text>
<line x1="405.77" y1="2584.12" x2="405.77" y2="2591.32" stroke="#000" stroke-width="1.7" />
<line x1="431.68" y1="2584.12" x2="431.68" y2="2591.32" stroke="#000" stroke-width="1.7" />
<line x1="457.59" y1="2584.12" x2="457.59" y2="2591.32" stroke="#000" stroke-width="1.7" />
<line x1="483.50" y1="2584.12" x2="483.50" y2="2597.62" stroke="#000" stroke-width="1.7" />
<text x="483.50" y="2628.62" font-size="27" text-anchor="middle" >2260</text>
<line x1="509.42" y1="2584.12" x2="509.42" y2="2591.32" stroke="#000" stroke-width="1.7" />
<text x="24.40" y="2377.07" font-size="26.9" text-anchor="middle" transform="rotate(-90.00 24.40 2377.07)" >Slowness (s/deg)</text>
<text x="59.60" y="2140.82" font-size="27" text-anchor="middle" font-weight="bold" >i</text>
<text x="133.70" y="2209.42" font-size="27" text-anchor="start" letter-spacing="0.3">20070716</text>
<text x="283.60" y="2209.42" font-size="27" text-anchor="start" letter-spacing="0.3">79−85°</text>
<line x1="295.60" y1="2396.22" x2="319.00" y2="2396.22" stroke="#000" stroke-width="1.5" />
<line x1="307.30" y1="2384.32" x2="307.30" y2="2408.12" stroke="#000" stroke-width="1.5" />
<text x="307.30" y="2432.12" font-size="24.8" text-anchor="middle" >(2226 −4.37)</text>
<rect x="543.30" y="2229.62" width="20.00" height="295.00" fill="url(#cbg)" stroke="#000" stroke-width="2"/>
<line x1="563.30" y1="2524.62" x2="576.00" y2="2524.62" stroke="#000" stroke-width="1.8" />
<text x="624.90" y="2534.32" font-size="27" text-anchor="end" >0.0</text>
<line x1="563.30" y1="2465.62" x2="576.00" y2="2465.62" stroke="#000" stroke-width="1.8" />
<text x="624.90" y="2475.32" font-size="27" text-anchor="end" >0.2</text>
<line x1="563.30" y1="2406.62" x2="576.00" y2="2406.62" stroke="#000" stroke-width="1.8" />
<text x="624.90" y="2416.32" font-size="27" text-anchor="end" >0.4</text>
<line x1="563.30" y1="2347.62" x2="576.00" y2="2347.62" stroke="#000" stroke-width="1.8" />
<text x="624.90" y="2357.32" font-size="27" text-anchor="end" >0.6</text>
<line x1="563.30" y1="2288.62" x2="576.00" y2="2288.62" stroke="#000" stroke-width="1.8" />
<text x="624.90" y="2298.32" font-size="27" text-anchor="end" >0.8</text>
<line x1="563.30" y1="2229.62" x2="576.00" y2="2229.62" stroke="#000" stroke-width="1.8" />
<text x="624.90" y="2239.32" font-size="27" text-anchor="end" >1.0</text>
<text x="665.70" y="2377.12" font-size="27" text-anchor="middle" transform="rotate(-90.00 665.70 2377.12)" >Normalized Amplitude</text>
<text x="306.30" y="2668.42" font-size="26.9" text-anchor="middle" >Time (s)</text>
<g clip-path="url(#cr0)"><g filter="url(#fr0)">
<rect x="855.6" y="43.5" width="415.1" height="414.1" fill="#000" fill-opacity="0.004"/>
<ellipse cx="1123.5" cy="318.4" rx="12.0" ry="12.0" fill="url(#bl)" opacity="0.50"/>
<ellipse cx="1123.5" cy="318.4" rx="7.0" ry="7.0" fill="url(#bc)" opacity="0.90"/>
<ellipse cx="1119.6" cy="323.2" rx="10.0" ry="11.0" fill="url(#bl)" opacity="0.28"/>
<ellipse cx="955.2" cy="271.3" rx="7.0" ry="5.0" fill="url(#bl)" opacity="0.10"/>
<ellipse cx="967.7" cy="192.4" rx="6.0" ry="4.0" fill="url(#bl)" opacity="0.08"/>
<ellipse cx="1249.9" cy="319.0" rx="7.0" ry="6.0" fill="url(#bl)" opacity="0.08"/>
</g></g>
<g fill="none" stroke="#2e2e0a" stroke-opacity="0.62" stroke-width="0.9">
<circle cx="1063.15" cy="250.55" r="20.65"/>
<circle cx="1063.15" cy="250.55" r="41.30"/>
<circle cx="1063.15" cy="250.55" r="61.95"/>
<circle cx="1063.15" cy="250.55" r="82.60"/>
<circle cx="1063.15" cy="250.55" r="103.25"/>
<circle cx="1063.15" cy="250.55" r="123.90"/>
<circle cx="1063.15" cy="250.55" r="144.55"/>
<circle cx="1063.15" cy="250.55" r="165.20"/>
<line x1="1063.15" y1="436.40" x2="1063.15" y2="64.70" stroke="#3a3a10" stroke-opacity="0.45" stroke-width="1.0"/>
<line x1="970.23" y1="411.50" x2="1156.08" y2="89.60" stroke="#3a3a10" stroke-opacity="0.45" stroke-width="1.0"/>
<line x1="902.20" y1="343.48" x2="1224.10" y2="157.62" stroke="#3a3a10" stroke-opacity="0.45" stroke-width="1.0"/>
<line x1="877.30" y1="250.55" x2="1249.00" y2="250.55" stroke="#3a3a10" stroke-opacity="0.45" stroke-width="1.0"/>
<line x1="902.20" y1="157.63" x2="1224.10" y2="343.47" stroke="#3a3a10" stroke-opacity="0.45" stroke-width="1.0"/>
<line x1="970.23" y1="89.60" x2="1156.08" y2="411.50" stroke="#3a3a10" stroke-opacity="0.45" stroke-width="1.0"/>
</g>
<circle cx="1063.15" cy="250.55" r="185.85" fill="none" stroke="#000" stroke-width="1.8"/>
<circle cx="1063.15" cy="250.55" r="206.50" fill="none" stroke="#000" stroke-width="1.8"/>
<text x="960.30" y="428.69" font-size="20" text-anchor="middle" transform="rotate(30 960.30 428.69)">−150<tspan font-size="13" dy="-5.5" dx="0.5">°</tspan></text>
<text x="885.01" y="353.40" font-size="20" text-anchor="middle" transform="rotate(60 885.01 353.40)">−120<tspan font-size="13" dy="-5.5" dx="0.5">°</tspan></text>
<text x="873.90" y="250.55" font-size="20" text-anchor="middle" transform="rotate(-90 873.90 250.55)">−90<tspan font-size="13" dy="-5.5" dx="0.5">°</tspan></text>
<text x="899.25" y="155.93" font-size="20" text-anchor="middle" transform="rotate(-60 899.25 155.93)">−60<tspan font-size="13" dy="-5.5" dx="0.5">°</tspan></text>
<text x="968.53" y="86.65" font-size="20" text-anchor="middle" transform="rotate(-30 968.53 86.65)">−30<tspan font-size="13" dy="-5.5" dx="0.5">°</tspan></text>
<text x="1063.15" y="61.30" font-size="20" text-anchor="middle" transform="rotate(0 1063.15 61.30)">0<tspan font-size="13" dy="-5.5" dx="0.5">°</tspan></text>
<text x="1157.78" y="86.65" font-size="20" text-anchor="middle" transform="rotate(30 1157.78 86.65)">30<tspan font-size="13" dy="-5.5" dx="0.5">°</tspan></text>
<text x="1227.05" y="155.93" font-size="20" text-anchor="middle" transform="rotate(60 1227.05 155.93)">60<tspan font-size="13" dy="-5.5" dx="0.5">°</tspan></text>
<text x="1268.85" y="250.55" font-size="20" text-anchor="middle" transform="rotate(-90 1268.85 250.55)">90<tspan font-size="13" dy="-5.5" dx="0.5">°</tspan></text>
<text x="1241.29" y="353.40" font-size="20" text-anchor="middle" transform="rotate(-60 1241.29 353.40)">120<tspan font-size="13" dy="-5.5" dx="0.5">°</tspan></text>
<text x="1166.00" y="428.69" font-size="20" text-anchor="middle" transform="rotate(-30 1166.00 428.69)">150<tspan font-size="13" dy="-5.5" dx="0.5">°</tspan></text>
<text x="1063.15" y="456.25" font-size="20" text-anchor="middle" transform="rotate(0 1063.15 456.25)">180<tspan font-size="13" dy="-5.5" dx="0.5">°</tspan></text>
<rect x="855.6" y="43.5" width="415.1" height="414.1" fill="none" stroke="#1c1c0c" stroke-width="1.2"/>
<line x1="849.10" y1="458.10" x2="855.60" y2="458.10" stroke="#000" stroke-width="1.8" />
<line x1="855.60" y1="457.60" x2="855.60" y2="464.60" stroke="#000" stroke-width="1.8" />
<line x1="842.80" y1="416.59" x2="855.60" y2="416.59" stroke="#000" stroke-width="1.8" />
<line x1="897.11" y1="457.60" x2="897.11" y2="471.00" stroke="#000" stroke-width="1.8" />
<text x="831.40" y="426.79" font-size="27" text-anchor="end" >−8</text>
<text x="897.11" y="502.10" font-size="27" text-anchor="middle" >−8</text>
<line x1="849.10" y1="375.08" x2="855.60" y2="375.08" stroke="#000" stroke-width="1.8" />
<line x1="938.62" y1="457.60" x2="938.62" y2="464.60" stroke="#000" stroke-width="1.8" />
<line x1="842.80" y1="333.57" x2="855.60" y2="333.57" stroke="#000" stroke-width="1.8" />
<line x1="980.13" y1="457.60" x2="980.13" y2="471.00" stroke="#000" stroke-width="1.8" />
<text x="831.40" y="343.77" font-size="27" text-anchor="end" >−4</text>
<text x="980.13" y="502.10" font-size="27" text-anchor="middle" >−4</text>
<line x1="849.10" y1="292.06" x2="855.60" y2="292.06" stroke="#000" stroke-width="1.8" />
<line x1="1021.64" y1="457.60" x2="1021.64" y2="464.60" stroke="#000" stroke-width="1.8" />
<line x1="842.80" y1="250.55" x2="855.60" y2="250.55" stroke="#000" stroke-width="1.8" />
<line x1="1063.15" y1="457.60" x2="1063.15" y2="471.00" stroke="#000" stroke-width="1.8" />
<text x="831.40" y="260.75" font-size="27" text-anchor="end" >0</text>
<text x="1063.15" y="502.10" font-size="27" text-anchor="middle" >0</text>
<line x1="849.10" y1="209.04" x2="855.60" y2="209.04" stroke="#000" stroke-width="1.8" />
<line x1="1104.66" y1="457.60" x2="1104.66" y2="464.60" stroke="#000" stroke-width="1.8" />
<line x1="842.80" y1="167.53" x2="855.60" y2="167.53" stroke="#000" stroke-width="1.8" />
<line x1="1146.17" y1="457.60" x2="1146.17" y2="471.00" stroke="#000" stroke-width="1.8" />
<text x="831.40" y="177.73" font-size="27" text-anchor="end" >4</text>
<text x="1146.17" y="502.10" font-size="27" text-anchor="middle" >4</text>
<line x1="849.10" y1="126.02" x2="855.60" y2="126.02" stroke="#000" stroke-width="1.8" />
<line x1="1187.68" y1="457.60" x2="1187.68" y2="464.60" stroke="#000" stroke-width="1.8" />
<line x1="842.80" y1="84.51" x2="855.60" y2="84.51" stroke="#000" stroke-width="1.8" />
<line x1="1229.19" y1="457.60" x2="1229.19" y2="471.00" stroke="#000" stroke-width="1.8" />
<text x="831.40" y="94.71" font-size="27" text-anchor="end" >8</text>
<text x="1229.19" y="502.10" font-size="27" text-anchor="middle" >8</text>
<line x1="849.10" y1="43.00" x2="855.60" y2="43.00" stroke="#000" stroke-width="1.8" />
<line x1="1270.70" y1="457.60" x2="1270.70" y2="464.60" stroke="#000" stroke-width="1.8" />
<text x="779.60" y="250.55" font-size="26.9" text-anchor="middle" transform="rotate(-90.00 779.60 250.55)" >Sy (s/deg)</text>
<text x="811.80" y="22.10" font-size="27" text-anchor="middle" font-weight="bold" >b</text>
<line x1="1111.85" y1="318.21" x2="1135.25" y2="318.21" stroke="#000" stroke-width="1.5" />
<line x1="1123.55" y1="306.31" x2="1123.55" y2="330.11" stroke="#000" stroke-width="1.5" />
<text x="1123.55" y="357.91" font-size="24.8" text-anchor="middle" >(2.91 −3.26)</text>
<rect x="1299.10" y="103.10" width="20.00" height="295.00" fill="url(#cbg)" stroke="#000" stroke-width="2"/>
<line x1="1319.10" y1="398.10" x2="1331.80" y2="398.10" stroke="#000" stroke-width="1.8" />
<text x="1380.70" y="407.80" font-size="27" text-anchor="end" >0.0</text>
<line x1="1319.10" y1="339.10" x2="1331.80" y2="339.10" stroke="#000" stroke-width="1.8" />
<text x="1380.70" y="348.80" font-size="27" text-anchor="end" >0.2</text>
<line x1="1319.10" y1="280.10" x2="1331.80" y2="280.10" stroke="#000" stroke-width="1.8" />
<text x="1380.70" y="289.80" font-size="27" text-anchor="end" >0.4</text>
<line x1="1319.10" y1="221.10" x2="1331.80" y2="221.10" stroke="#000" stroke-width="1.8" />
<text x="1380.70" y="230.80" font-size="27" text-anchor="end" >0.6</text>
<line x1="1319.10" y1="162.10" x2="1331.80" y2="162.10" stroke="#000" stroke-width="1.8" />
<text x="1380.70" y="171.80" font-size="27" text-anchor="end" >0.8</text>
<line x1="1319.10" y1="103.10" x2="1331.80" y2="103.10" stroke="#000" stroke-width="1.8" />
<text x="1380.70" y="112.80" font-size="27" text-anchor="end" >1.0</text>
<text x="1422.90" y="250.60" font-size="27" text-anchor="middle" transform="rotate(-90.00 1422.90 250.60)" >Normalized Power</text>
<g clip-path="url(#cr1)"><g filter="url(#fr1)">
<rect x="855.6" y="575.13" width="415.1" height="414.1" fill="#000" fill-opacity="0.004"/>
<ellipse cx="1129.6" cy="842.4" rx="11.0" ry="12.0" fill="url(#bl)" opacity="0.50"/>
<ellipse cx="1128.9" cy="843.0" rx="6.0" ry="6.5" fill="url(#bc)" opacity="0.85"/>
<ellipse cx="1133.3" cy="838.2" rx="5.0" ry="5.5" fill="url(#bc)" opacity="0.50"/>
<ellipse cx="1125.4" cy="824.7" rx="6.0" ry="13.0" fill="url(#bl)" opacity="0.32" transform="rotate(15 1125.4 824.7)"/>
<ellipse cx="1124.4" cy="836.1" rx="5.0" ry="6.0" fill="url(#bl)" opacity="0.15"/>
<ellipse cx="1113.6" cy="853.4" rx="5.5" ry="5.0" fill="url(#bl)" opacity="0.32"/>
<ellipse cx="1120.2" cy="851.7" rx="7.0" ry="6.0" fill="url(#bl)" opacity="0.16"/>
<ellipse cx="1125.4" cy="854.8" rx="4.0" ry="6.0" fill="url(#bl)" opacity="0.15"/>
<ellipse cx="1206.4" cy="780.1" rx="5.0" ry="4.0" fill="url(#bl)" opacity="0.12"/>
</g></g>
<g fill="none" stroke="#2e2e0a" stroke-opacity="0.62" stroke-width="0.9">
<circle cx="1063.15" cy="782.18" r="20.65"/>
<circle cx="1063.15" cy="782.18" r="41.30"/>
<circle cx="1063.15" cy="782.18" r="61.95"/>
<circle cx="1063.15" cy="782.18" r="82.60"/>
<circle cx="1063.15" cy="782.18" r="103.25"/>
<circle cx="1063.15" cy="782.18" r="123.90"/>
<circle cx="1063.15" cy="782.18" r="144.55"/>
<circle cx="1063.15" cy="782.18" r="165.20"/>
<line x1="1063.15" y1="968.03" x2="1063.15" y2="596.33" stroke="#3a3a10" stroke-opacity="0.45" stroke-width="1.0"/>
<line x1="970.23" y1="943.13" x2="1156.08" y2="621.23" stroke="#3a3a10" stroke-opacity="0.45" stroke-width="1.0"/>
<line x1="902.20" y1="875.11" x2="1224.10" y2="689.26" stroke="#3a3a10" stroke-opacity="0.45" stroke-width="1.0"/>
<line x1="877.30" y1="782.18" x2="1249.00" y2="782.18" stroke="#3a3a10" stroke-opacity="0.45" stroke-width="1.0"/>
<line x1="902.20" y1="689.26" x2="1224.10" y2="875.11" stroke="#3a3a10" stroke-opacity="0.45" stroke-width="1.0"/>
<line x1="970.23" y1="621.23" x2="1156.08" y2="943.13" stroke="#3a3a10" stroke-opacity="0.45" stroke-width="1.0"/>
</g>
<circle cx="1063.15" cy="782.18" r="185.85" fill="none" stroke="#000" stroke-width="1.8"/>
<circle cx="1063.15" cy="782.18" r="206.50" fill="none" stroke="#000" stroke-width="1.8"/>
<text x="960.30" y="960.32" font-size="20" text-anchor="middle" transform="rotate(30 960.30 960.32)">−150<tspan font-size="13" dy="-5.5" dx="0.5">°</tspan></text>
<text x="885.01" y="885.03" font-size="20" text-anchor="middle" transform="rotate(60 885.01 885.03)">−120<tspan font-size="13" dy="-5.5" dx="0.5">°</tspan></text>
<text x="873.90" y="782.18" font-size="20" text-anchor="middle" transform="rotate(-90 873.90 782.18)">−90<tspan font-size="13" dy="-5.5" dx="0.5">°</tspan></text>
<text x="899.25" y="687.56" font-size="20" text-anchor="middle" transform="rotate(-60 899.25 687.56)">−60<tspan font-size="13" dy="-5.5" dx="0.5">°</tspan></text>
<text x="968.53" y="618.28" font-size="20" text-anchor="middle" transform="rotate(-30 968.53 618.28)">−30<tspan font-size="13" dy="-5.5" dx="0.5">°</tspan></text>
<text x="1063.15" y="592.93" font-size="20" text-anchor="middle" transform="rotate(0 1063.15 592.93)">0<tspan font-size="13" dy="-5.5" dx="0.5">°</tspan></text>
<text x="1157.78" y="618.28" font-size="20" text-anchor="middle" transform="rotate(30 1157.78 618.28)">30<tspan font-size="13" dy="-5.5" dx="0.5">°</tspan></text>
<text x="1227.05" y="687.56" font-size="20" text-anchor="middle" transform="rotate(60 1227.05 687.56)">60<tspan font-size="13" dy="-5.5" dx="0.5">°</tspan></text>
<text x="1268.85" y="782.18" font-size="20" text-anchor="middle" transform="rotate(-90 1268.85 782.18)">90<tspan font-size="13" dy="-5.5" dx="0.5">°</tspan></text>
<text x="1241.29" y="885.03" font-size="20" text-anchor="middle" transform="rotate(-60 1241.29 885.03)">120<tspan font-size="13" dy="-5.5" dx="0.5">°</tspan></text>
<text x="1166.00" y="960.32" font-size="20" text-anchor="middle" transform="rotate(-30 1166.00 960.32)">150<tspan font-size="13" dy="-5.5" dx="0.5">°</tspan></text>
<text x="1063.15" y="987.88" font-size="20" text-anchor="middle" transform="rotate(0 1063.15 987.88)">180<tspan font-size="13" dy="-5.5" dx="0.5">°</tspan></text>
<rect x="855.6" y="575.13" width="415.1" height="414.1" fill="none" stroke="#1c1c0c" stroke-width="1.2"/>
<line x1="849.10" y1="989.73" x2="855.60" y2="989.73" stroke="#000" stroke-width="1.8" />
<line x1="855.60" y1="989.23" x2="855.60" y2="996.23" stroke="#000" stroke-width="1.8" />
<line x1="842.80" y1="948.22" x2="855.60" y2="948.22" stroke="#000" stroke-width="1.8" />
<line x1="897.11" y1="989.23" x2="897.11" y2="1002.63" stroke="#000" stroke-width="1.8" />
<text x="831.40" y="958.42" font-size="27" text-anchor="end" >−8</text>
<text x="897.11" y="1033.73" font-size="27" text-anchor="middle" >−8</text>
<line x1="849.10" y1="906.71" x2="855.60" y2="906.71" stroke="#000" stroke-width="1.8" />
<line x1="938.62" y1="989.23" x2="938.62" y2="996.23" stroke="#000" stroke-width="1.8" />
<line x1="842.80" y1="865.20" x2="855.60" y2="865.20" stroke="#000" stroke-width="1.8" />
<line x1="980.13" y1="989.23" x2="980.13" y2="1002.63" stroke="#000" stroke-width="1.8" />
<text x="831.40" y="875.40" font-size="27" text-anchor="end" >−4</text>
<text x="980.13" y="1033.73" font-size="27" text-anchor="middle" >−4</text>
<line x1="849.10" y1="823.69" x2="855.60" y2="823.69" stroke="#000" stroke-width="1.8" />
<line x1="1021.64" y1="989.23" x2="1021.64" y2="996.23" stroke="#000" stroke-width="1.8" />
<line x1="842.80" y1="782.18" x2="855.60" y2="782.18" stroke="#000" stroke-width="1.8" />
<line x1="1063.15" y1="989.23" x2="1063.15" y2="1002.63" stroke="#000" stroke-width="1.8" />
<text x="831.40" y="792.38" font-size="27" text-anchor="end" >0</text>
<text x="1063.15" y="1033.73" font-size="27" text-anchor="middle" >0</text>
<line x1="849.10" y1="740.67" x2="855.60" y2="740.67" stroke="#000" stroke-width="1.8" />
<line x1="1104.66" y1="989.23" x2="1104.66" y2="996.23" stroke="#000" stroke-width="1.8" />
<line x1="842.80" y1="699.16" x2="855.60" y2="699.16" stroke="#000" stroke-width="1.8" />
<line x1="1146.17" y1="989.23" x2="1146.17" y2="1002.63" stroke="#000" stroke-width="1.8" />
<text x="831.40" y="709.36" font-size="27" text-anchor="end" >4</text>
<text x="1146.17" y="1033.73" font-size="27" text-anchor="middle" >4</text>
<line x1="849.10" y1="657.65" x2="855.60" y2="657.65" stroke="#000" stroke-width="1.8" />
<line x1="1187.68" y1="989.23" x2="1187.68" y2="996.23" stroke="#000" stroke-width="1.8" />
<line x1="842.80" y1="616.14" x2="855.60" y2="616.14" stroke="#000" stroke-width="1.8" />
<line x1="1229.19" y1="989.23" x2="1229.19" y2="1002.63" stroke="#000" stroke-width="1.8" />
<text x="831.40" y="626.34" font-size="27" text-anchor="end" >8</text>
<text x="1229.19" y="1033.73" font-size="27" text-anchor="middle" >8</text>
<line x1="849.10" y1="574.63" x2="855.60" y2="574.63" stroke="#000" stroke-width="1.8" />
<line x1="1270.70" y1="989.23" x2="1270.70" y2="996.23" stroke="#000" stroke-width="1.8" />
<text x="779.60" y="782.18" font-size="26.9" text-anchor="middle" transform="rotate(-90.00 779.60 782.18)" >Sy (s/deg)</text>
<text x="811.80" y="551.93" font-size="27" text-anchor="middle" font-weight="bold" >d</text>
<line x1="1116.62" y1="845.28" x2="1140.02" y2="845.28" stroke="#000" stroke-width="1.5" />
<line x1="1128.32" y1="833.38" x2="1128.32" y2="857.18" stroke="#000" stroke-width="1.5" />
<text x="1128.32" y="884.98" font-size="24.8" text-anchor="middle" >(3.14 −3.04)</text>
<rect x="1299.10" y="634.73" width="20.00" height="295.00" fill="url(#cbg)" stroke="#000" stroke-width="2"/>
<line x1="1319.10" y1="929.73" x2="1331.80" y2="929.73" stroke="#000" stroke-width="1.8" />
<text x="1380.70" y="939.43" font-size="27" text-anchor="end" >0.0</text>
<line x1="1319.10" y1="870.73" x2="1331.80" y2="870.73" stroke="#000" stroke-width="1.8" />
<text x="1380.70" y="880.43" font-size="27" text-anchor="end" >0.2</text>
<line x1="1319.10" y1="811.73" x2="1331.80" y2="811.73" stroke="#000" stroke-width="1.8" />
<text x="1380.70" y="821.43" font-size="27" text-anchor="end" >0.4</text>
<line x1="1319.10" y1="752.73" x2="1331.80" y2="752.73" stroke="#000" stroke-width="1.8" />
<text x="1380.70" y="762.43" font-size="27" text-anchor="end" >0.6</text>
<line x1="1319.10" y1="693.73" x2="1331.80" y2="693.73" stroke="#000" stroke-width="1.8" />
<text x="1380.70" y="703.43" font-size="27" text-anchor="end" >0.8</text>
<line x1="1319.10" y1="634.73" x2="1331.80" y2="634.73" stroke="#000" stroke-width="1.8" />
<text x="1380.70" y="644.43" font-size="27" text-anchor="end" >1.0</text>
<text x="1422.90" y="782.23" font-size="27" text-anchor="middle" transform="rotate(-90.00 1422.90 782.23)" >Normalized Power</text>
<g clip-path="url(#cr2)"><g filter="url(#fr2)">
<rect x="855.6" y="1106.76" width="415.1" height="414.1" fill="#000" fill-opacity="0.004"/>
<ellipse cx="1114.0" cy="1386.5" rx="14.0" ry="9.0" fill="url(#bl)" opacity="0.50" transform="rotate(-25 1114.0 1386.5)"/>
<ellipse cx="1112.5" cy="1387.1" rx="9.5" ry="6.5" fill="url(#bc)" opacity="1.00" transform="rotate(-25 1112.5 1387.1)"/>
<ellipse cx="1119.2" cy="1381.9" rx="7.0" ry="6.0" fill="url(#bc)" opacity="0.70" transform="rotate(-25 1119.2 1381.9)"/>
<ellipse cx="1125.2" cy="1377.1" rx="7.0" ry="6.0" fill="url(#bc)" opacity="0.80" transform="rotate(-25 1125.2 1377.1)"/>
<ellipse cx="1139.1" cy="1364.9" rx="9.0" ry="6.5" fill="url(#bl)" opacity="0.38" transform="rotate(-20 1139.1 1364.9)"/>
<ellipse cx="1128.9" cy="1395.6" rx="7.5" ry="4.5" fill="url(#bl)" opacity="0.35" transform="rotate(-25 1128.9 1395.6)"/>
<ellipse cx="1114.2" cy="1360.5" rx="5.0" ry="5.0" fill="url(#bl)" opacity="0.20"/>
<ellipse cx="1145.1" cy="1357.4" rx="6.0" ry="6.0" fill="url(#bl)" opacity="0.18"/>
<ellipse cx="1099.1" cy="1395.6" rx="10.0" ry="6.0" fill="url(#bl)" opacity="0.20" transform="rotate(-30 1099.1 1395.6)"/>
<ellipse cx="901.3" cy="1388.5" rx="6.0" ry="7.0" fill="url(#bl)" opacity="0.22"/>
</g></g>
<g fill="none" stroke="#2e2e0a" stroke-opacity="0.62" stroke-width="0.9">
<circle cx="1063.15" cy="1313.81" r="20.65"/>
<circle cx="1063.15" cy="1313.81" r="41.30"/>
<circle cx="1063.15" cy="1313.81" r="61.95"/>
<circle cx="1063.15" cy="1313.81" r="82.60"/>
<circle cx="1063.15" cy="1313.81" r="103.25"/>
<circle cx="1063.15" cy="1313.81" r="123.90"/>
<circle cx="1063.15" cy="1313.81" r="144.55"/>
<circle cx="1063.15" cy="1313.81" r="165.20"/>
<line x1="1063.15" y1="1499.66" x2="1063.15" y2="1127.96" stroke="#3a3a10" stroke-opacity="0.45" stroke-width="1.0"/>
<line x1="970.23" y1="1474.76" x2="1156.08" y2="1152.86" stroke="#3a3a10" stroke-opacity="0.45" stroke-width="1.0"/>
<line x1="902.20" y1="1406.73" x2="1224.10" y2="1220.88" stroke="#3a3a10" stroke-opacity="0.45" stroke-width="1.0"/>
<line x1="877.30" y1="1313.81" x2="1249.00" y2="1313.81" stroke="#3a3a10" stroke-opacity="0.45" stroke-width="1.0"/>
<line x1="902.20" y1="1220.88" x2="1224.10" y2="1406.73" stroke="#3a3a10" stroke-opacity="0.45" stroke-width="1.0"/>
<line x1="970.23" y1="1152.86" x2="1156.08" y2="1474.76" stroke="#3a3a10" stroke-opacity="0.45" stroke-width="1.0"/>
</g>
<circle cx="1063.15" cy="1313.81" r="185.85" fill="none" stroke="#000" stroke-width="1.8"/>
<circle cx="1063.15" cy="1313.81" r="206.50" fill="none" stroke="#000" stroke-width="1.8"/>
<text x="960.30" y="1491.95" font-size="20" text-anchor="middle" transform="rotate(30 960.30 1491.95)">−150<tspan font-size="13" dy="-5.5" dx="0.5">°</tspan></text>
<text x="885.01" y="1416.66" font-size="20" text-anchor="middle" transform="rotate(60 885.01 1416.66)">−120<tspan font-size="13" dy="-5.5" dx="0.5">°</tspan></text>
<text x="873.90" y="1313.81" font-size="20" text-anchor="middle" transform="rotate(-90 873.90 1313.81)">−90<tspan font-size="13" dy="-5.5" dx="0.5">°</tspan></text>
<text x="899.25" y="1219.18" font-size="20" text-anchor="middle" transform="rotate(-60 899.25 1219.18)">−60<tspan font-size="13" dy="-5.5" dx="0.5">°</tspan></text>
<text x="968.53" y="1149.91" font-size="20" text-anchor="middle" transform="rotate(-30 968.53 1149.91)">−30<tspan font-size="13" dy="-5.5" dx="0.5">°</tspan></text>
<text x="1063.15" y="1124.56" font-size="20" text-anchor="middle" transform="rotate(0 1063.15 1124.56)">0<tspan font-size="13" dy="-5.5" dx="0.5">°</tspan></text>
<text x="1157.78" y="1149.91" font-size="20" text-anchor="middle" transform="rotate(30 1157.78 1149.91)">30<tspan font-size="13" dy="-5.5" dx="0.5">°</tspan></text>
<text x="1227.05" y="1219.18" font-size="20" text-anchor="middle" transform="rotate(60 1227.05 1219.18)">60<tspan font-size="13" dy="-5.5" dx="0.5">°</tspan></text>
<text x="1268.85" y="1313.81" font-size="20" text-anchor="middle" transform="rotate(-90 1268.85 1313.81)">90<tspan font-size="13" dy="-5.5" dx="0.5">°</tspan></text>
<text x="1241.29" y="1416.66" font-size="20" text-anchor="middle" transform="rotate(-60 1241.29 1416.66)">120<tspan font-size="13" dy="-5.5" dx="0.5">°</tspan></text>
<text x="1166.00" y="1491.95" font-size="20" text-anchor="middle" transform="rotate(-30 1166.00 1491.95)">150<tspan font-size="13" dy="-5.5" dx="0.5">°</tspan></text>
<text x="1063.15" y="1519.51" font-size="20" text-anchor="middle" transform="rotate(0 1063.15 1519.51)">180<tspan font-size="13" dy="-5.5" dx="0.5">°</tspan></text>
<rect x="855.6" y="1106.76" width="415.1" height="414.1" fill="none" stroke="#1c1c0c" stroke-width="1.2"/>
<line x1="849.10" y1="1521.36" x2="855.60" y2="1521.36" stroke="#000" stroke-width="1.8" />
<line x1="855.60" y1="1520.86" x2="855.60" y2="1527.86" stroke="#000" stroke-width="1.8" />
<line x1="842.80" y1="1479.85" x2="855.60" y2="1479.85" stroke="#000" stroke-width="1.8" />
<line x1="897.11" y1="1520.86" x2="897.11" y2="1534.26" stroke="#000" stroke-width="1.8" />
<text x="831.40" y="1490.05" font-size="27" text-anchor="end" >−8</text>
<text x="897.11" y="1565.36" font-size="27" text-anchor="middle" >−8</text>
<line x1="849.10" y1="1438.34" x2="855.60" y2="1438.34" stroke="#000" stroke-width="1.8" />
<line x1="938.62" y1="1520.86" x2="938.62" y2="1527.86" stroke="#000" stroke-width="1.8" />
<line x1="842.80" y1="1396.83" x2="855.60" y2="1396.83" stroke="#000" stroke-width="1.8" />
<line x1="980.13" y1="1520.86" x2="980.13" y2="1534.26" stroke="#000" stroke-width="1.8" />
<text x="831.40" y="1407.03" font-size="27" text-anchor="end" >−4</text>
<text x="980.13" y="1565.36" font-size="27" text-anchor="middle" >−4</text>
<line x1="849.10" y1="1355.32" x2="855.60" y2="1355.32" stroke="#000" stroke-width="1.8" />
<line x1="1021.64" y1="1520.86" x2="1021.64" y2="1527.86" stroke="#000" stroke-width="1.8" />
<line x1="842.80" y1="1313.81" x2="855.60" y2="1313.81" stroke="#000" stroke-width="1.8" />
<line x1="1063.15" y1="1520.86" x2="1063.15" y2="1534.26" stroke="#000" stroke-width="1.8" />
<text x="831.40" y="1324.01" font-size="27" text-anchor="end" >0</text>
<text x="1063.15" y="1565.36" font-size="27" text-anchor="middle" >0</text>
<line x1="849.10" y1="1272.30" x2="855.60" y2="1272.30" stroke="#000" stroke-width="1.8" />
<line x1="1104.66" y1="1520.86" x2="1104.66" y2="1527.86" stroke="#000" stroke-width="1.8" />
<line x1="842.80" y1="1230.79" x2="855.60" y2="1230.79" stroke="#000" stroke-width="1.8" />
<line x1="1146.17" y1="1520.86" x2="1146.17" y2="1534.26" stroke="#000" stroke-width="1.8" />
<text x="831.40" y="1240.99" font-size="27" text-anchor="end" >4</text>
<text x="1146.17" y="1565.36" font-size="27" text-anchor="middle" >4</text>
<line x1="849.10" y1="1189.28" x2="855.60" y2="1189.28" stroke="#000" stroke-width="1.8" />
<line x1="1187.68" y1="1520.86" x2="1187.68" y2="1527.86" stroke="#000" stroke-width="1.8" />
<line x1="842.80" y1="1147.77" x2="855.60" y2="1147.77" stroke="#000" stroke-width="1.8" />
<line x1="1229.19" y1="1520.86" x2="1229.19" y2="1534.26" stroke="#000" stroke-width="1.8" />
<text x="831.40" y="1157.97" font-size="27" text-anchor="end" >8</text>
<text x="1229.19" y="1565.36" font-size="27" text-anchor="middle" >8</text>
<line x1="849.10" y1="1106.26" x2="855.60" y2="1106.26" stroke="#000" stroke-width="1.8" />
<line x1="1270.70" y1="1520.86" x2="1270.70" y2="1527.86" stroke="#000" stroke-width="1.8" />
<text x="779.60" y="1313.81" font-size="26.9" text-anchor="middle" transform="rotate(-90.00 779.60 1313.81)" >Sy (s/deg)</text>
<text x="811.80" y="1081.96" font-size="27" text-anchor="middle" font-weight="bold" >f</text>
<line x1="1113.92" y1="1379.60" x2="1137.32" y2="1379.60" stroke="#000" stroke-width="1.5" />
<line x1="1125.62" y1="1367.70" x2="1125.62" y2="1391.50" stroke="#000" stroke-width="1.5" />
<text x="1125.62" y="1419.30" font-size="24.8" text-anchor="middle" >(3.01 −3.17)</text>
<rect x="1299.10" y="1166.36" width="20.00" height="295.00" fill="url(#cbg)" stroke="#000" stroke-width="2"/>
<line x1="1319.10" y1="1461.36" x2="1331.80" y2="1461.36" stroke="#000" stroke-width="1.8" />
<text x="1380.70" y="1471.06" font-size="27" text-anchor="end" >0.0</text>
<line x1="1319.10" y1="1402.36" x2="1331.80" y2="1402.36" stroke="#000" stroke-width="1.8" />
<text x="1380.70" y="1412.06" font-size="27" text-anchor="end" >0.2</text>
<line x1="1319.10" y1="1343.36" x2="1331.80" y2="1343.36" stroke="#000" stroke-width="1.8" />
<text x="1380.70" y="1353.06" font-size="27" text-anchor="end" >0.4</text>
<line x1="1319.10" y1="1284.36" x2="1331.80" y2="1284.36" stroke="#000" stroke-width="1.8" />
<text x="1380.70" y="1294.06" font-size="27" text-anchor="end" >0.6</text>
<line x1="1319.10" y1="1225.36" x2="1331.80" y2="1225.36" stroke="#000" stroke-width="1.8" />
<text x="1380.70" y="1235.06" font-size="27" text-anchor="end" >0.8</text>
<line x1="1319.10" y1="1166.36" x2="1331.80" y2="1166.36" stroke="#000" stroke-width="1.8" />
<text x="1380.70" y="1176.06" font-size="27" text-anchor="end" >1.0</text>
<text x="1422.90" y="1313.86" font-size="27" text-anchor="middle" transform="rotate(-90.00 1422.90 1313.86)" >Normalized Power</text>
<g clip-path="url(#cr3)"><g filter="url(#fr3)">
<rect x="855.6" y="1638.3899999999999" width="415.1" height="414.1" fill="#000" fill-opacity="0.004"/>
<ellipse cx="1113.8" cy="1918.7" rx="14.0" ry="8.0" fill="url(#bl)" opacity="0.50" transform="rotate(-30 1113.8 1918.7)"/>
<ellipse cx="1113.8" cy="1918.7" rx="9.5" ry="5.5" fill="url(#bc)" opacity="0.97" transform="rotate(-30 1113.8 1918.7)"/>
<ellipse cx="1107.8" cy="1930.1" rx="5.5" ry="5.5" fill="url(#bl)" opacity="0.40"/>
<ellipse cx="1122.5" cy="1906.9" rx="5.5" ry="5.5" fill="url(#bl)" opacity="0.36"/>
<ellipse cx="1115.5" cy="1895.5" rx="9.0" ry="8.0" fill="url(#bl)" opacity="0.36"/>
<ellipse cx="1124.8" cy="1885.1" rx="8.0" ry="5.5" fill="url(#bl)" opacity="0.34" transform="rotate(-30 1124.8 1885.1)"/>
<ellipse cx="1133.5" cy="1870.6" rx="8.0" ry="6.5" fill="url(#bl)" opacity="0.36"/>
<ellipse cx="1139.9" cy="1881.6" rx="6.0" ry="5.5" fill="url(#bl)" opacity="0.24"/>
<ellipse cx="1073.5" cy="1921.8" rx="6.5" ry="5.5" fill="url(#bl)" opacity="0.27"/>
<ellipse cx="1108.8" cy="1978.3" rx="5.0" ry="6.0" fill="url(#bl)" opacity="0.30"/>
<ellipse cx="1048.6" cy="1849.6" rx="5.0" ry="4.0" fill="url(#bl)" opacity="0.20"/>
<ellipse cx="872.2" cy="2003.2" rx="8.0" ry="6.0" fill="url(#bl)" opacity="0.22"/>
<ellipse cx="1137.9" cy="1824.7" rx="4.0" ry="5.0" fill="url(#bl)" opacity="0.18"/>
<ellipse cx="861.8" cy="1762.4" rx="4.0" ry="5.0" fill="url(#bl)" opacity="0.18"/>
</g></g>
<g fill="none" stroke="#2e2e0a" stroke-opacity="0.62" stroke-width="0.9">
<circle cx="1063.15" cy="1845.44" r="20.65"/>
<circle cx="1063.15" cy="1845.44" r="41.30"/>
<circle cx="1063.15" cy="1845.44" r="61.95"/>
<circle cx="1063.15" cy="1845.44" r="82.60"/>
<circle cx="1063.15" cy="1845.44" r="103.25"/>
<circle cx="1063.15" cy="1845.44" r="123.90"/>
<circle cx="1063.15" cy="1845.44" r="144.55"/>
<circle cx="1063.15" cy="1845.44" r="165.20"/>
<line x1="1063.15" y1="2031.29" x2="1063.15" y2="1659.59" stroke="#3a3a10" stroke-opacity="0.45" stroke-width="1.0"/>
<line x1="970.23" y1="2006.39" x2="1156.08" y2="1684.49" stroke="#3a3a10" stroke-opacity="0.45" stroke-width="1.0"/>
<line x1="902.20" y1="1938.36" x2="1224.10" y2="1752.51" stroke="#3a3a10" stroke-opacity="0.45" stroke-width="1.0"/>
<line x1="877.30" y1="1845.44" x2="1249.00" y2="1845.44" stroke="#3a3a10" stroke-opacity="0.45" stroke-width="1.0"/>
<line x1="902.20" y1="1752.51" x2="1224.10" y2="1938.36" stroke="#3a3a10" stroke-opacity="0.45" stroke-width="1.0"/>
<line x1="970.23" y1="1684.49" x2="1156.08" y2="2006.39" stroke="#3a3a10" stroke-opacity="0.45" stroke-width="1.0"/>
</g>
<circle cx="1063.15" cy="1845.44" r="185.85" fill="none" stroke="#000" stroke-width="1.8"/>
<circle cx="1063.15" cy="1845.44" r="206.50" fill="none" stroke="#000" stroke-width="1.8"/>
<text x="960.30" y="2023.58" font-size="20" text-anchor="middle" transform="rotate(30 960.30 2023.58)">−150<tspan font-size="13" dy="-5.5" dx="0.5">°</tspan></text>
<text x="885.01" y="1948.29" font-size="20" text-anchor="middle" transform="rotate(60 885.01 1948.29)">−120<tspan font-size="13" dy="-5.5" dx="0.5">°</tspan></text>
<text x="873.90" y="1845.44" font-size="20" text-anchor="middle" transform="rotate(-90 873.90 1845.44)">−90<tspan font-size="13" dy="-5.5" dx="0.5">°</tspan></text>
<text x="899.25" y="1750.81" font-size="20" text-anchor="middle" transform="rotate(-60 899.25 1750.81)">−60<tspan font-size="13" dy="-5.5" dx="0.5">°</tspan></text>
<text x="968.53" y="1681.54" font-size="20" text-anchor="middle" transform="rotate(-30 968.53 1681.54)">−30<tspan font-size="13" dy="-5.5" dx="0.5">°</tspan></text>
<text x="1063.15" y="1656.19" font-size="20" text-anchor="middle" transform="rotate(0 1063.15 1656.19)">0<tspan font-size="13" dy="-5.5" dx="0.5">°</tspan></text>
<text x="1157.78" y="1681.54" font-size="20" text-anchor="middle" transform="rotate(30 1157.78 1681.54)">30<tspan font-size="13" dy="-5.5" dx="0.5">°</tspan></text>
<text x="1227.05" y="1750.81" font-size="20" text-anchor="middle" transform="rotate(60 1227.05 1750.81)">60<tspan font-size="13" dy="-5.5" dx="0.5">°</tspan></text>
<text x="1268.85" y="1845.44" font-size="20" text-anchor="middle" transform="rotate(-90 1268.85 1845.44)">90<tspan font-size="13" dy="-5.5" dx="0.5">°</tspan></text>
<text x="1241.29" y="1948.29" font-size="20" text-anchor="middle" transform="rotate(-60 1241.29 1948.29)">120<tspan font-size="13" dy="-5.5" dx="0.5">°</tspan></text>
<text x="1166.00" y="2023.58" font-size="20" text-anchor="middle" transform="rotate(-30 1166.00 2023.58)">150<tspan font-size="13" dy="-5.5" dx="0.5">°</tspan></text>
<text x="1063.15" y="2051.14" font-size="20" text-anchor="middle" transform="rotate(0 1063.15 2051.14)">180<tspan font-size="13" dy="-5.5" dx="0.5">°</tspan></text>
<rect x="855.6" y="1638.3899999999999" width="415.1" height="414.1" fill="none" stroke="#1c1c0c" stroke-width="1.2"/>
<line x1="849.10" y1="2052.99" x2="855.60" y2="2052.99" stroke="#000" stroke-width="1.8" />
<line x1="855.60" y1="2052.49" x2="855.60" y2="2059.49" stroke="#000" stroke-width="1.8" />
<line x1="842.80" y1="2011.48" x2="855.60" y2="2011.48" stroke="#000" stroke-width="1.8" />
<line x1="897.11" y1="2052.49" x2="897.11" y2="2065.89" stroke="#000" stroke-width="1.8" />
<text x="831.40" y="2021.68" font-size="27" text-anchor="end" >−8</text>
<text x="897.11" y="2096.99" font-size="27" text-anchor="middle" >−8</text>
<line x1="849.10" y1="1969.97" x2="855.60" y2="1969.97" stroke="#000" stroke-width="1.8" />
<line x1="938.62" y1="2052.49" x2="938.62" y2="2059.49" stroke="#000" stroke-width="1.8" />
<line x1="842.80" y1="1928.46" x2="855.60" y2="1928.46" stroke="#000" stroke-width="1.8" />
<line x1="980.13" y1="2052.49" x2="980.13" y2="2065.89" stroke="#000" stroke-width="1.8" />
<text x="831.40" y="1938.66" font-size="27" text-anchor="end" >−4</text>
<text x="980.13" y="2096.99" font-size="27" text-anchor="middle" >−4</text>
<line x1="849.10" y1="1886.95" x2="855.60" y2="1886.95" stroke="#000" stroke-width="1.8" />
<line x1="1021.64" y1="2052.49" x2="1021.64" y2="2059.49" stroke="#000" stroke-width="1.8" />
<line x1="842.80" y1="1845.44" x2="855.60" y2="1845.44" stroke="#000" stroke-width="1.8" />
<line x1="1063.15" y1="2052.49" x2="1063.15" y2="2065.89" stroke="#000" stroke-width="1.8" />
<text x="831.40" y="1855.64" font-size="27" text-anchor="end" >0</text>
<text x="1063.15" y="2096.99" font-size="27" text-anchor="middle" >0</text>
<line x1="849.10" y1="1803.93" x2="855.60" y2="1803.93" stroke="#000" stroke-width="1.8" />
<line x1="1104.66" y1="2052.49" x2="1104.66" y2="2059.49" stroke="#000" stroke-width="1.8" />
<line x1="842.80" y1="1762.42" x2="855.60" y2="1762.42" stroke="#000" stroke-width="1.8" />
<line x1="1146.17" y1="2052.49" x2="1146.17" y2="2065.89" stroke="#000" stroke-width="1.8" />
<text x="831.40" y="1772.62" font-size="27" text-anchor="end" >4</text>
<text x="1146.17" y="2096.99" font-size="27" text-anchor="middle" >4</text>
<line x1="849.10" y1="1720.91" x2="855.60" y2="1720.91" stroke="#000" stroke-width="1.8" />
<line x1="1187.68" y1="2052.49" x2="1187.68" y2="2059.49" stroke="#000" stroke-width="1.8" />
<line x1="842.80" y1="1679.40" x2="855.60" y2="1679.40" stroke="#000" stroke-width="1.8" />
<line x1="1229.19" y1="2052.49" x2="1229.19" y2="2065.89" stroke="#000" stroke-width="1.8" />
<text x="831.40" y="1689.60" font-size="27" text-anchor="end" >8</text>
<text x="1229.19" y="2096.99" font-size="27" text-anchor="middle" >8</text>
<line x1="849.10" y1="1637.89" x2="855.60" y2="1637.89" stroke="#000" stroke-width="1.8" />
<line x1="1270.70" y1="2052.49" x2="1270.70" y2="2059.49" stroke="#000" stroke-width="1.8" />
<text x="779.60" y="1845.44" font-size="26.9" text-anchor="middle" transform="rotate(-90.00 779.60 1845.44)" >Sy (s/deg)</text>
<text x="811.80" y="1610.99" font-size="27" text-anchor="middle" font-weight="bold" >h</text>
<line x1="1113.51" y1="1911.65" x2="1136.91" y2="1911.65" stroke="#000" stroke-width="1.5" />
<line x1="1125.21" y1="1899.75" x2="1125.21" y2="1923.55" stroke="#000" stroke-width="1.5" />
<text x="1125.21" y="1951.35" font-size="24.8" text-anchor="middle" >(2.99 −3.19)</text>
<rect x="1299.10" y="1697.99" width="20.00" height="295.00" fill="url(#cbg)" stroke="#000" stroke-width="2"/>
<line x1="1319.10" y1="1992.99" x2="1331.80" y2="1992.99" stroke="#000" stroke-width="1.8" />
<text x="1380.70" y="2002.69" font-size="27" text-anchor="end" >0.0</text>
<line x1="1319.10" y1="1933.99" x2="1331.80" y2="1933.99" stroke="#000" stroke-width="1.8" />
<text x="1380.70" y="1943.69" font-size="27" text-anchor="end" >0.2</text>
<line x1="1319.10" y1="1874.99" x2="1331.80" y2="1874.99" stroke="#000" stroke-width="1.8" />
<text x="1380.70" y="1884.69" font-size="27" text-anchor="end" >0.4</text>
<line x1="1319.10" y1="1815.99" x2="1331.80" y2="1815.99" stroke="#000" stroke-width="1.8" />
<text x="1380.70" y="1825.69" font-size="27" text-anchor="end" >0.6</text>
<line x1="1319.10" y1="1756.99" x2="1331.80" y2="1756.99" stroke="#000" stroke-width="1.8" />
<text x="1380.70" y="1766.69" font-size="27" text-anchor="end" >0.8</text>
<line x1="1319.10" y1="1697.99" x2="1331.80" y2="1697.99" stroke="#000" stroke-width="1.8" />
<text x="1380.70" y="1707.69" font-size="27" text-anchor="end" >1.0</text>
<text x="1422.90" y="1845.49" font-size="27" text-anchor="middle" transform="rotate(-90.00 1422.90 1845.49)" >Normalized Power</text>
<g clip-path="url(#cr4)"><g filter="url(#fr4)">
<rect x="855.6" y="2170.02" width="415.1" height="414.1" fill="#000" fill-opacity="0.004"/>
<ellipse cx="1131.0" cy="2431.4" rx="12.5" ry="13.5" fill="url(#bl)" opacity="0.50"/>
<ellipse cx="1130.0" cy="2430.6" rx="8.5" ry="10.0" fill="url(#bc)" opacity="0.86" transform="rotate(-25 1130.0 2430.6)"/>
<ellipse cx="1135.8" cy="2427.9" rx="5.0" ry="5.0" fill="url(#bc)" opacity="0.50"/>
<ellipse cx="1113.6" cy="2446.2" rx="6.5" ry="6.0" fill="url(#bl)" opacity="0.42"/>
<ellipse cx="984.3" cy="2410.3" rx="6.0" ry="7.0" fill="url(#bl)" opacity="0.40"/>
<ellipse cx="978.1" cy="2441.4" rx="6.0" ry="6.0" fill="url(#bl)" opacity="0.35"/>
<ellipse cx="994.7" cy="2333.5" rx="5.0" ry="5.0" fill="url(#bl)" opacity="0.30"/>
<ellipse cx="1210.5" cy="2223.5" rx="9.0" ry="5.0" fill="url(#bl)" opacity="0.30" transform="rotate(-30 1210.5 2223.5)"/>
<ellipse cx="1046.5" cy="2323.1" rx="5.0" ry="6.0" fill="url(#bl)" opacity="0.28"/>
<ellipse cx="1152.4" cy="2300.3" rx="5.0" ry="5.0" fill="url(#bl)" opacity="0.25"/>
<ellipse cx="973.9" cy="2370.8" rx="8.0" ry="4.0" fill="url(#bl)" opacity="0.25"/>
<ellipse cx="1104.7" cy="2323.1" rx="4.0" ry="5.0" fill="url(#bl)" opacity="0.25"/>
</g></g>
<g fill="none" stroke="#2e2e0a" stroke-opacity="0.62" stroke-width="0.9">
<circle cx="1063.15" cy="2377.07" r="20.65"/>
<circle cx="1063.15" cy="2377.07" r="41.30"/>
<circle cx="1063.15" cy="2377.07" r="61.95"/>
<circle cx="1063.15" cy="2377.07" r="82.60"/>
<circle cx="1063.15" cy="2377.07" r="103.25"/>
<circle cx="1063.15" cy="2377.07" r="123.90"/>
<circle cx="1063.15" cy="2377.07" r="144.55"/>
<circle cx="1063.15" cy="2377.07" r="165.20"/>
<line x1="1063.15" y1="2562.92" x2="1063.15" y2="2191.22" stroke="#3a3a10" stroke-opacity="0.45" stroke-width="1.0"/>
<line x1="970.23" y1="2538.02" x2="1156.08" y2="2216.12" stroke="#3a3a10" stroke-opacity="0.45" stroke-width="1.0"/>
<line x1="902.20" y1="2469.99" x2="1224.10" y2="2284.14" stroke="#3a3a10" stroke-opacity="0.45" stroke-width="1.0"/>
<line x1="877.30" y1="2377.07" x2="1249.00" y2="2377.07" stroke="#3a3a10" stroke-opacity="0.45" stroke-width="1.0"/>
<line x1="902.20" y1="2284.14" x2="1224.10" y2="2469.99" stroke="#3a3a10" stroke-opacity="0.45" stroke-width="1.0"/>
<line x1="970.23" y1="2216.12" x2="1156.08" y2="2538.02" stroke="#3a3a10" stroke-opacity="0.45" stroke-width="1.0"/>
</g>
<circle cx="1063.15" cy="2377.07" r="185.85" fill="none" stroke="#000" stroke-width="1.8"/>
<circle cx="1063.15" cy="2377.07" r="206.50" fill="none" stroke="#000" stroke-width="1.8"/>
<text x="960.30" y="2555.21" font-size="20" text-anchor="middle" transform="rotate(30 960.30 2555.21)">−150<tspan font-size="13" dy="-5.5" dx="0.5">°</tspan></text>
<text x="885.01" y="2479.92" font-size="20" text-anchor="middle" transform="rotate(60 885.01 2479.92)">−120<tspan font-size="13" dy="-5.5" dx="0.5">°</tspan></text>
<text x="873.90" y="2377.07" font-size="20" text-anchor="middle" transform="rotate(-90 873.90 2377.07)">−90<tspan font-size="13" dy="-5.5" dx="0.5">°</tspan></text>
<text x="899.25" y="2282.44" font-size="20" text-anchor="middle" transform="rotate(-60 899.25 2282.44)">−60<tspan font-size="13" dy="-5.5" dx="0.5">°</tspan></text>
<text x="968.53" y="2213.17" font-size="20" text-anchor="middle" transform="rotate(-30 968.53 2213.17)">−30<tspan font-size="13" dy="-5.5" dx="0.5">°</tspan></text>
<text x="1063.15" y="2187.82" font-size="20" text-anchor="middle" transform="rotate(0 1063.15 2187.82)">0<tspan font-size="13" dy="-5.5" dx="0.5">°</tspan></text>
<text x="1157.78" y="2213.17" font-size="20" text-anchor="middle" transform="rotate(30 1157.78 2213.17)">30<tspan font-size="13" dy="-5.5" dx="0.5">°</tspan></text>
<text x="1227.05" y="2282.44" font-size="20" text-anchor="middle" transform="rotate(60 1227.05 2282.44)">60<tspan font-size="13" dy="-5.5" dx="0.5">°</tspan></text>
<text x="1268.85" y="2377.07" font-size="20" text-anchor="middle" transform="rotate(-90 1268.85 2377.07)">90<tspan font-size="13" dy="-5.5" dx="0.5">°</tspan></text>
<text x="1241.29" y="2479.92" font-size="20" text-anchor="middle" transform="rotate(-60 1241.29 2479.92)">120<tspan font-size="13" dy="-5.5" dx="0.5">°</tspan></text>
<text x="1166.00" y="2555.21" font-size="20" text-anchor="middle" transform="rotate(-30 1166.00 2555.21)">150<tspan font-size="13" dy="-5.5" dx="0.5">°</tspan></text>
<text x="1063.15" y="2582.77" font-size="20" text-anchor="middle" transform="rotate(0 1063.15 2582.77)">180<tspan font-size="13" dy="-5.5" dx="0.5">°</tspan></text>
<rect x="855.6" y="2170.02" width="415.1" height="414.1" fill="none" stroke="#1c1c0c" stroke-width="1.2"/>
<line x1="849.10" y1="2584.62" x2="855.60" y2="2584.62" stroke="#000" stroke-width="1.8" />
<line x1="855.60" y1="2584.12" x2="855.60" y2="2591.12" stroke="#000" stroke-width="1.8" />
<line x1="842.80" y1="2543.11" x2="855.60" y2="2543.11" stroke="#000" stroke-width="1.8" />
<line x1="897.11" y1="2584.12" x2="897.11" y2="2597.52" stroke="#000" stroke-width="1.8" />
<text x="831.40" y="2553.31" font-size="27" text-anchor="end" >−8</text>
<text x="897.11" y="2628.62" font-size="27" text-anchor="middle" >−8</text>
<line x1="849.10" y1="2501.60" x2="855.60" y2="2501.60" stroke="#000" stroke-width="1.8" />
<line x1="938.62" y1="2584.12" x2="938.62" y2="2591.12" stroke="#000" stroke-width="1.8" />
<line x1="842.80" y1="2460.09" x2="855.60" y2="2460.09" stroke="#000" stroke-width="1.8" />
<line x1="980.13" y1="2584.12" x2="980.13" y2="2597.52" stroke="#000" stroke-width="1.8" />
<text x="831.40" y="2470.29" font-size="27" text-anchor="end" >−4</text>
<text x="980.13" y="2628.62" font-size="27" text-anchor="middle" >−4</text>
<line x1="849.10" y1="2418.58" x2="855.60" y2="2418.58" stroke="#000" stroke-width="1.8" />
<line x1="1021.64" y1="2584.12" x2="1021.64" y2="2591.12" stroke="#000" stroke-width="1.8" />
<line x1="842.80" y1="2377.07" x2="855.60" y2="2377.07" stroke="#000" stroke-width="1.8" />
<line x1="1063.15" y1="2584.12" x2="1063.15" y2="2597.52" stroke="#000" stroke-width="1.8" />
<text x="831.40" y="2387.27" font-size="27" text-anchor="end" >0</text>
<text x="1063.15" y="2628.62" font-size="27" text-anchor="middle" >0</text>
<line x1="849.10" y1="2335.56" x2="855.60" y2="2335.56" stroke="#000" stroke-width="1.8" />
<line x1="1104.66" y1="2584.12" x2="1104.66" y2="2591.12" stroke="#000" stroke-width="1.8" />
<line x1="842.80" y1="2294.05" x2="855.60" y2="2294.05" stroke="#000" stroke-width="1.8" />
<line x1="1146.17" y1="2584.12" x2="1146.17" y2="2597.52" stroke="#000" stroke-width="1.8" />
<text x="831.40" y="2304.25" font-size="27" text-anchor="end" >4</text>
<text x="1146.17" y="2628.62" font-size="27" text-anchor="middle" >4</text>
<line x1="849.10" y1="2252.54" x2="855.60" y2="2252.54" stroke="#000" stroke-width="1.8" />
<line x1="1187.68" y1="2584.12" x2="1187.68" y2="2591.12" stroke="#000" stroke-width="1.8" />
<line x1="842.80" y1="2211.03" x2="855.60" y2="2211.03" stroke="#000" stroke-width="1.8" />
<line x1="1229.19" y1="2584.12" x2="1229.19" y2="2597.52" stroke="#000" stroke-width="1.8" />
<text x="831.40" y="2221.23" font-size="27" text-anchor="end" >8</text>
<text x="1229.19" y="2628.62" font-size="27" text-anchor="middle" >8</text>
<line x1="849.10" y1="2169.52" x2="855.60" y2="2169.52" stroke="#000" stroke-width="1.8" />
<line x1="1270.70" y1="2584.12" x2="1270.70" y2="2591.12" stroke="#000" stroke-width="1.8" />
<text x="779.60" y="2377.07" font-size="26.9" text-anchor="middle" transform="rotate(-90.00 779.60 2377.07)" >Sy (s/deg)</text>
<text x="811.80" y="2140.82" font-size="27" text-anchor="middle" font-weight="bold" >j</text>
<line x1="1121.39" y1="2434.77" x2="1144.79" y2="2434.77" stroke="#000" stroke-width="1.5" />
<line x1="1133.09" y1="2422.87" x2="1133.09" y2="2446.67" stroke="#000" stroke-width="1.5" />
<text x="1133.09" y="2474.47" font-size="24.8" text-anchor="middle" >(3.37 −2.78)</text>
<rect x="1299.10" y="2229.62" width="20.00" height="295.00" fill="url(#cbg)" stroke="#000" stroke-width="2"/>
<line x1="1319.10" y1="2524.62" x2="1331.80" y2="2524.62" stroke="#000" stroke-width="1.8" />
<text x="1380.70" y="2534.32" font-size="27" text-anchor="end" >0.0</text>
<line x1="1319.10" y1="2465.62" x2="1331.80" y2="2465.62" stroke="#000" stroke-width="1.8" />
<text x="1380.70" y="2475.32" font-size="27" text-anchor="end" >0.2</text>
<line x1="1319.10" y1="2406.62" x2="1331.80" y2="2406.62" stroke="#000" stroke-width="1.8" />
<text x="1380.70" y="2416.32" font-size="27" text-anchor="end" >0.4</text>
<line x1="1319.10" y1="2347.62" x2="1331.80" y2="2347.62" stroke="#000" stroke-width="1.8" />
<text x="1380.70" y="2357.32" font-size="27" text-anchor="end" >0.6</text>
<line x1="1319.10" y1="2288.62" x2="1331.80" y2="2288.62" stroke="#000" stroke-width="1.8" />
<text x="1380.70" y="2298.32" font-size="27" text-anchor="end" >0.8</text>
<line x1="1319.10" y1="2229.62" x2="1331.80" y2="2229.62" stroke="#000" stroke-width="1.8" />
<text x="1380.70" y="2239.32" font-size="27" text-anchor="end" >1.0</text>
<text x="1422.90" y="2377.12" font-size="27" text-anchor="middle" transform="rotate(-90.00 1422.90 2377.12)" >Normalized Power</text>
<text x="1063.15" y="2668.42" font-size="26.9" text-anchor="middle" >Sx (s/deg)</text>
</svg>
</body></html>
